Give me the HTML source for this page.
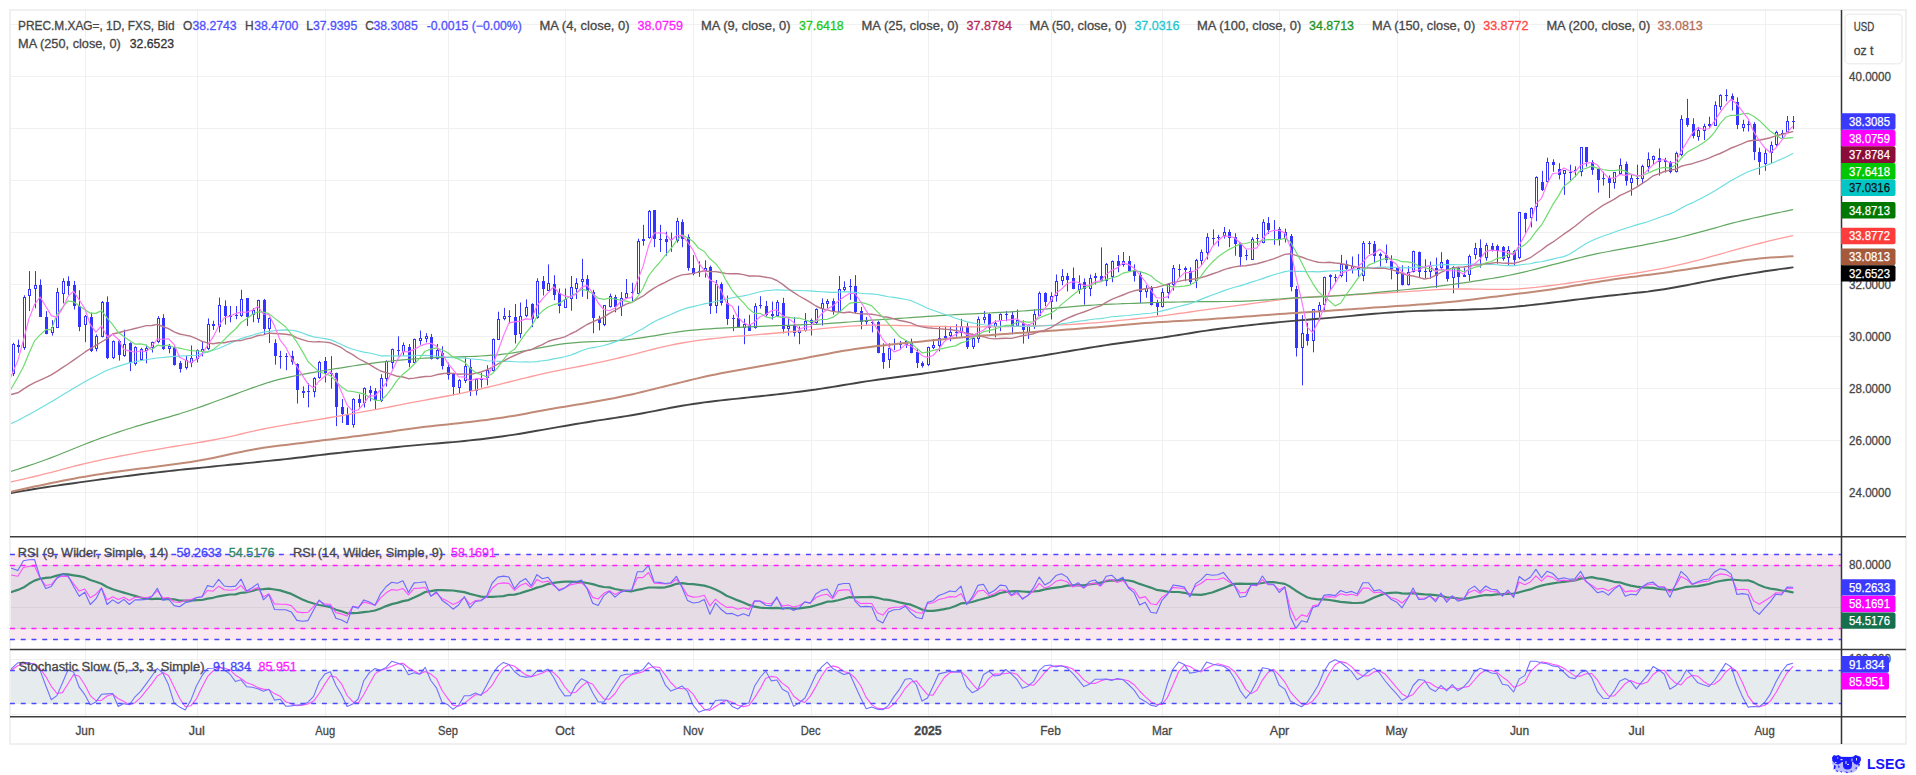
<!DOCTYPE html><html><head><meta charset="utf-8"><style>html,body{margin:0;padding:0;background:#fff;width:1916px;height:775px;overflow:hidden;position:relative}</style></head><body><svg width="1916" height="775" viewBox="0 0 1916 775" style="position:absolute;left:0;top:0;display:block">
<defs><clipPath id="main"><rect x="11" y="11" width="1830" height="525.5"/></clipPath><clipPath id="rsi"><rect x="11" y="537.5" width="1830" height="111.5"/></clipPath><clipPath id="st"><rect x="11" y="650.5" width="1830" height="65.5"/></clipPath></defs>
<rect x="0" y="0" width="1916" height="775" fill="#fff"/>
<rect x="10" y="10" width="1896" height="734" fill="#fff" stroke="#f0f0f0" stroke-width="2"/>
<line x1="11" y1="492.5" x2="1841.5" y2="492.5" stroke="#f0f0f0" stroke-width="1"/>
<line x1="11" y1="440.5" x2="1841.5" y2="440.5" stroke="#f0f0f0" stroke-width="1"/>
<line x1="11" y1="388.5" x2="1841.5" y2="388.5" stroke="#f0f0f0" stroke-width="1"/>
<line x1="11" y1="336.5" x2="1841.5" y2="336.5" stroke="#f0f0f0" stroke-width="1"/>
<line x1="11" y1="284.5" x2="1841.5" y2="284.5" stroke="#f0f0f0" stroke-width="1"/>
<line x1="11" y1="232.5" x2="1841.5" y2="232.5" stroke="#f0f0f0" stroke-width="1"/>
<line x1="11" y1="180.5" x2="1841.5" y2="180.5" stroke="#f0f0f0" stroke-width="1"/>
<line x1="11" y1="128.5" x2="1841.5" y2="128.5" stroke="#f0f0f0" stroke-width="1"/>
<line x1="11" y1="76.5" x2="1841.5" y2="76.5" stroke="#f0f0f0" stroke-width="1"/>
<line x1="11" y1="24.5" x2="1841.5" y2="24.5" stroke="#f0f0f0" stroke-width="1"/>
<line x1="85.5" y1="11" x2="85.5" y2="716" stroke="#f0f0f0" stroke-width="1"/>
<line x1="197.5" y1="11" x2="197.5" y2="716" stroke="#f0f0f0" stroke-width="1"/>
<line x1="325.5" y1="11" x2="325.5" y2="716" stroke="#f0f0f0" stroke-width="1"/>
<line x1="448.5" y1="11" x2="448.5" y2="716" stroke="#f0f0f0" stroke-width="1"/>
<line x1="565.5" y1="11" x2="565.5" y2="716" stroke="#f0f0f0" stroke-width="1"/>
<line x1="693.5" y1="11" x2="693.5" y2="716" stroke="#f0f0f0" stroke-width="1"/>
<line x1="811.5" y1="11" x2="811.5" y2="716" stroke="#f0f0f0" stroke-width="1"/>
<line x1="928.5" y1="11" x2="928.5" y2="716" stroke="#f0f0f0" stroke-width="1"/>
<line x1="1051.5" y1="11" x2="1051.5" y2="716" stroke="#f0f0f0" stroke-width="1"/>
<line x1="1162.5" y1="11" x2="1162.5" y2="716" stroke="#f0f0f0" stroke-width="1"/>
<line x1="1279.5" y1="11" x2="1279.5" y2="716" stroke="#f0f0f0" stroke-width="1"/>
<line x1="1397.5" y1="11" x2="1397.5" y2="716" stroke="#f0f0f0" stroke-width="1"/>
<line x1="1519.5" y1="11" x2="1519.5" y2="716" stroke="#f0f0f0" stroke-width="1"/>
<line x1="1637.5" y1="11" x2="1637.5" y2="716" stroke="#f0f0f0" stroke-width="1"/>
<line x1="1765.5" y1="11" x2="1765.5" y2="716" stroke="#f0f0f0" stroke-width="1"/>
<rect x="11" y="554" width="1830.5" height="86" fill="#f9e8ef"/>
<rect x="11" y="565.5" width="1830.5" height="63" fill="#e5dce5"/>
<line x1="11" y1="565.5" x2="1841.5" y2="565.5" stroke="#d8d0d8" stroke-width="1"/>
<line x1="11" y1="628.5" x2="1841.5" y2="628.5" stroke="#d8d0d8" stroke-width="1"/>
<line x1="11" y1="607.5" x2="1841.5" y2="607.5" stroke="#d9d0d9" stroke-width="1"/>
<rect x="11" y="670" width="1830.5" height="34" fill="#e6eced"/>
<line x1="11" y1="659.5" x2="1841.5" y2="659.5" stroke="#f0f0f0" stroke-width="1"/>
<line x1="11" y1="714.5" x2="1841.5" y2="714.5" stroke="#f0f0f0" stroke-width="1"/>
<g clip-path="url(#main)">
<line x1="13.5" y1="342.8" x2="13.5" y2="376.1" stroke="#3434ff" stroke-width="1"/>
<rect x="12.5" y="344.5" width="2" height="29" fill="#fff" stroke="#3434ff" stroke-width="1"/>
<line x1="18.5" y1="339.7" x2="18.5" y2="352.9" stroke="#3434ff" stroke-width="1"/>
<rect x="17.0" y="345" width="3" height="2" fill="#3434ff"/>
<line x1="24.5" y1="295.3" x2="24.5" y2="349.8" stroke="#3434ff" stroke-width="1"/>
<rect x="23.5" y="297.5" width="2" height="50" fill="#fff" stroke="#3434ff" stroke-width="1"/>
<line x1="29.5" y1="271.1" x2="29.5" y2="311.1" stroke="#3434ff" stroke-width="1"/>
<rect x="28.5" y="289.5" width="2" height="6" fill="#fff" stroke="#3434ff" stroke-width="1"/>
<line x1="35.5" y1="271.1" x2="35.5" y2="308.3" stroke="#3434ff" stroke-width="1"/>
<rect x="34.5" y="285.5" width="2" height="3" fill="#fff" stroke="#3434ff" stroke-width="1"/>
<line x1="40.5" y1="279.4" x2="40.5" y2="316.5" stroke="#3434ff" stroke-width="1"/>
<rect x="39.0" y="285" width="3" height="32" fill="#3434ff"/>
<line x1="46.5" y1="311.1" x2="46.5" y2="334.3" stroke="#3434ff" stroke-width="1"/>
<rect x="45.0" y="317" width="3" height="17" fill="#3434ff"/>
<line x1="52.5" y1="320.1" x2="52.5" y2="335.6" stroke="#3434ff" stroke-width="1"/>
<rect x="51.5" y="327.5" width="2" height="5" fill="#fff" stroke="#3434ff" stroke-width="1"/>
<line x1="57.5" y1="287.9" x2="57.5" y2="328.1" stroke="#3434ff" stroke-width="1"/>
<rect x="56.5" y="292.5" width="2" height="35" fill="#fff" stroke="#3434ff" stroke-width="1"/>
<line x1="63.5" y1="278.3" x2="63.5" y2="303.4" stroke="#3434ff" stroke-width="1"/>
<rect x="62.5" y="281.5" width="2" height="12" fill="#fff" stroke="#3434ff" stroke-width="1"/>
<line x1="68.5" y1="276.3" x2="68.5" y2="294.8" stroke="#3434ff" stroke-width="1"/>
<rect x="67.0" y="281" width="3" height="5" fill="#3434ff"/>
<line x1="74.5" y1="280.9" x2="74.5" y2="309.5" stroke="#3434ff" stroke-width="1"/>
<rect x="73.0" y="285" width="3" height="21" fill="#3434ff"/>
<line x1="79.5" y1="290.2" x2="79.5" y2="331.2" stroke="#3434ff" stroke-width="1"/>
<rect x="78.0" y="306" width="3" height="21" fill="#3434ff"/>
<line x1="85.5" y1="315.0" x2="85.5" y2="342.1" stroke="#3434ff" stroke-width="1"/>
<rect x="84.5" y="316.5" width="2" height="8" fill="#fff" stroke="#3434ff" stroke-width="1"/>
<line x1="91.5" y1="312.6" x2="91.5" y2="352.1" stroke="#3434ff" stroke-width="1"/>
<rect x="90.0" y="317" width="3" height="34" fill="#3434ff"/>
<line x1="96.5" y1="334.3" x2="96.5" y2="351.4" stroke="#3434ff" stroke-width="1"/>
<rect x="95.5" y="336.5" width="2" height="12" fill="#fff" stroke="#3434ff" stroke-width="1"/>
<line x1="102.5" y1="301.0" x2="102.5" y2="337.4" stroke="#3434ff" stroke-width="1"/>
<rect x="101.5" y="302.5" width="2" height="34" fill="#fff" stroke="#3434ff" stroke-width="1"/>
<line x1="107.5" y1="296.4" x2="107.5" y2="359.1" stroke="#3434ff" stroke-width="1"/>
<rect x="106.0" y="302" width="3" height="56" fill="#3434ff"/>
<line x1="113.5" y1="340.5" x2="113.5" y2="359.1" stroke="#3434ff" stroke-width="1"/>
<rect x="112.5" y="341.5" width="2" height="16" fill="#fff" stroke="#3434ff" stroke-width="1"/>
<line x1="119.5" y1="339.7" x2="119.5" y2="360.6" stroke="#3434ff" stroke-width="1"/>
<rect x="118.0" y="341" width="3" height="14" fill="#3434ff"/>
<line x1="124.5" y1="329.7" x2="124.5" y2="356.8" stroke="#3434ff" stroke-width="1"/>
<rect x="123.5" y="344.5" width="2" height="11" fill="#fff" stroke="#3434ff" stroke-width="1"/>
<line x1="130.5" y1="342.4" x2="130.5" y2="371.1" stroke="#3434ff" stroke-width="1"/>
<rect x="129.0" y="343" width="3" height="20" fill="#3434ff"/>
<line x1="135.5" y1="346.3" x2="135.5" y2="365.6" stroke="#3434ff" stroke-width="1"/>
<rect x="134.5" y="347.5" width="2" height="16" fill="#fff" stroke="#3434ff" stroke-width="1"/>
<line x1="141.5" y1="347.8" x2="141.5" y2="361.0" stroke="#3434ff" stroke-width="1"/>
<rect x="140.5" y="349.5" width="2" height="10" fill="#fff" stroke="#3434ff" stroke-width="1"/>
<line x1="146.5" y1="344.7" x2="146.5" y2="363.3" stroke="#3434ff" stroke-width="1"/>
<rect x="145.5" y="348.5" width="2" height="2" fill="#fff" stroke="#3434ff" stroke-width="1"/>
<line x1="152.5" y1="341.6" x2="152.5" y2="352.5" stroke="#3434ff" stroke-width="1"/>
<rect x="151.5" y="342.5" width="2" height="5" fill="#fff" stroke="#3434ff" stroke-width="1"/>
<line x1="158.5" y1="316.1" x2="158.5" y2="343.2" stroke="#3434ff" stroke-width="1"/>
<rect x="157.5" y="318.5" width="2" height="23" fill="#fff" stroke="#3434ff" stroke-width="1"/>
<line x1="163.5" y1="314.2" x2="163.5" y2="349.9" stroke="#3434ff" stroke-width="1"/>
<rect x="162.0" y="318" width="3" height="31" fill="#3434ff"/>
<line x1="169.5" y1="344.0" x2="169.5" y2="353.3" stroke="#3434ff" stroke-width="1"/>
<rect x="168.5" y="346.5" width="2" height="2" fill="#fff" stroke="#3434ff" stroke-width="1"/>
<line x1="174.5" y1="346.3" x2="174.5" y2="365.6" stroke="#3434ff" stroke-width="1"/>
<rect x="173.0" y="347" width="3" height="18" fill="#3434ff"/>
<line x1="180.5" y1="361.0" x2="180.5" y2="372.6" stroke="#3434ff" stroke-width="1"/>
<rect x="179.0" y="363" width="3" height="6" fill="#3434ff"/>
<line x1="186.5" y1="355.6" x2="186.5" y2="369.5" stroke="#3434ff" stroke-width="1"/>
<rect x="185.5" y="360.5" width="2" height="7" fill="#fff" stroke="#3434ff" stroke-width="1"/>
<line x1="191.5" y1="345.5" x2="191.5" y2="367.2" stroke="#3434ff" stroke-width="1"/>
<rect x="190.5" y="358.5" width="2" height="4" fill="#fff" stroke="#3434ff" stroke-width="1"/>
<line x1="197.5" y1="349.4" x2="197.5" y2="362.5" stroke="#3434ff" stroke-width="1"/>
<rect x="196.5" y="350.5" width="2" height="8" fill="#fff" stroke="#3434ff" stroke-width="1"/>
<line x1="202.5" y1="340.9" x2="202.5" y2="356.4" stroke="#3434ff" stroke-width="1"/>
<rect x="201.5" y="349.5" width="2" height="2" fill="#fff" stroke="#3434ff" stroke-width="1"/>
<line x1="208.5" y1="318.4" x2="208.5" y2="350.2" stroke="#3434ff" stroke-width="1"/>
<rect x="207.5" y="324.5" width="2" height="24" fill="#fff" stroke="#3434ff" stroke-width="1"/>
<line x1="213.5" y1="320.7" x2="213.5" y2="330.0" stroke="#3434ff" stroke-width="1"/>
<rect x="212.0" y="324" width="3" height="2" fill="#3434ff"/>
<line x1="219.5" y1="297.5" x2="219.5" y2="332.4" stroke="#3434ff" stroke-width="1"/>
<rect x="218.5" y="305.5" width="2" height="21" fill="#fff" stroke="#3434ff" stroke-width="1"/>
<line x1="225.5" y1="300.3" x2="225.5" y2="324.6" stroke="#3434ff" stroke-width="1"/>
<rect x="224.0" y="306" width="3" height="10" fill="#3434ff"/>
<line x1="230.5" y1="306.0" x2="230.5" y2="322.3" stroke="#3434ff" stroke-width="1"/>
<rect x="229.0" y="315" width="3" height="2" fill="#3434ff"/>
<line x1="236.5" y1="306.0" x2="236.5" y2="319.2" stroke="#3434ff" stroke-width="1"/>
<rect x="235.0" y="315" width="3" height="1" fill="#3434ff"/>
<line x1="241.5" y1="289.8" x2="241.5" y2="316.9" stroke="#3434ff" stroke-width="1"/>
<rect x="240.5" y="299.5" width="2" height="16" fill="#fff" stroke="#3434ff" stroke-width="1"/>
<line x1="247.5" y1="298.2" x2="247.5" y2="326.0" stroke="#3434ff" stroke-width="1"/>
<rect x="246.0" y="298" width="3" height="19" fill="#3434ff"/>
<line x1="253.5" y1="308.2" x2="253.5" y2="322.2" stroke="#3434ff" stroke-width="1"/>
<rect x="252.5" y="310.5" width="2" height="4" fill="#fff" stroke="#3434ff" stroke-width="1"/>
<line x1="258.5" y1="299.7" x2="258.5" y2="322.9" stroke="#3434ff" stroke-width="1"/>
<rect x="257.5" y="300.5" width="2" height="18" fill="#fff" stroke="#3434ff" stroke-width="1"/>
<line x1="264.5" y1="298.9" x2="264.5" y2="334.5" stroke="#3434ff" stroke-width="1"/>
<rect x="263.0" y="300" width="3" height="29" fill="#3434ff"/>
<line x1="269.5" y1="317.5" x2="269.5" y2="343.1" stroke="#3434ff" stroke-width="1"/>
<rect x="268.5" y="318.5" width="2" height="10" fill="#fff" stroke="#3434ff" stroke-width="1"/>
<line x1="275.5" y1="339.2" x2="275.5" y2="364.7" stroke="#3434ff" stroke-width="1"/>
<rect x="274.0" y="343" width="3" height="13" fill="#3434ff"/>
<line x1="280.5" y1="350.8" x2="280.5" y2="368.6" stroke="#3434ff" stroke-width="1"/>
<rect x="279.0" y="356" width="3" height="1" fill="#3434ff"/>
<line x1="286.5" y1="353.1" x2="286.5" y2="370.2" stroke="#3434ff" stroke-width="1"/>
<rect x="285.0" y="356" width="3" height="1" fill="#3434ff"/>
<line x1="292.5" y1="350.8" x2="292.5" y2="364.7" stroke="#3434ff" stroke-width="1"/>
<rect x="291.0" y="356" width="3" height="6" fill="#3434ff"/>
<line x1="297.5" y1="363.2" x2="297.5" y2="403.5" stroke="#3434ff" stroke-width="1"/>
<rect x="296.0" y="364" width="3" height="26" fill="#3434ff"/>
<line x1="303.5" y1="386.4" x2="303.5" y2="398.0" stroke="#3434ff" stroke-width="1"/>
<rect x="302.0" y="391" width="3" height="2" fill="#3434ff"/>
<line x1="308.5" y1="383.3" x2="308.5" y2="407.3" stroke="#3434ff" stroke-width="1"/>
<rect x="307.0" y="391" width="3" height="1" fill="#3434ff"/>
<line x1="314.5" y1="377.1" x2="314.5" y2="397.3" stroke="#3434ff" stroke-width="1"/>
<rect x="313.5" y="378.5" width="2" height="13" fill="#fff" stroke="#3434ff" stroke-width="1"/>
<line x1="319.5" y1="360.9" x2="319.5" y2="378.7" stroke="#3434ff" stroke-width="1"/>
<rect x="318.5" y="362.5" width="2" height="15" fill="#fff" stroke="#3434ff" stroke-width="1"/>
<line x1="325.5" y1="357.0" x2="325.5" y2="382.5" stroke="#3434ff" stroke-width="1"/>
<rect x="324.0" y="361" width="3" height="12" fill="#3434ff"/>
<line x1="331.5" y1="356.2" x2="331.5" y2="388.7" stroke="#3434ff" stroke-width="1"/>
<rect x="330.0" y="373" width="3" height="1" fill="#3434ff"/>
<line x1="336.5" y1="372.6" x2="336.5" y2="426.1" stroke="#3434ff" stroke-width="1"/>
<rect x="335.0" y="373" width="3" height="34" fill="#3434ff"/>
<line x1="342.5" y1="399.0" x2="342.5" y2="423.0" stroke="#3434ff" stroke-width="1"/>
<rect x="341.0" y="407" width="3" height="7" fill="#3434ff"/>
<line x1="347.5" y1="407.5" x2="347.5" y2="424.5" stroke="#3434ff" stroke-width="1"/>
<rect x="346.0" y="414" width="3" height="11" fill="#3434ff"/>
<line x1="353.5" y1="398.2" x2="353.5" y2="427.6" stroke="#3434ff" stroke-width="1"/>
<rect x="352.5" y="399.5" width="2" height="25" fill="#fff" stroke="#3434ff" stroke-width="1"/>
<line x1="359.5" y1="394.3" x2="359.5" y2="407.5" stroke="#3434ff" stroke-width="1"/>
<rect x="358.0" y="399" width="3" height="4" fill="#3434ff"/>
<line x1="364.5" y1="387.4" x2="364.5" y2="407.5" stroke="#3434ff" stroke-width="1"/>
<rect x="363.5" y="388.5" width="2" height="14" fill="#fff" stroke="#3434ff" stroke-width="1"/>
<line x1="370.5" y1="385.8" x2="370.5" y2="401.3" stroke="#3434ff" stroke-width="1"/>
<rect x="369.0" y="390" width="3" height="3" fill="#3434ff"/>
<line x1="375.5" y1="388.1" x2="375.5" y2="409.0" stroke="#3434ff" stroke-width="1"/>
<rect x="374.0" y="391" width="3" height="9" fill="#3434ff"/>
<line x1="381.5" y1="374.2" x2="381.5" y2="402.1" stroke="#3434ff" stroke-width="1"/>
<rect x="380.5" y="378.5" width="2" height="22" fill="#fff" stroke="#3434ff" stroke-width="1"/>
<line x1="386.5" y1="360.3" x2="386.5" y2="386.6" stroke="#3434ff" stroke-width="1"/>
<rect x="385.5" y="361.5" width="2" height="17" fill="#fff" stroke="#3434ff" stroke-width="1"/>
<line x1="392.5" y1="348.6" x2="392.5" y2="368.8" stroke="#3434ff" stroke-width="1"/>
<rect x="391.5" y="349.5" width="2" height="13" fill="#fff" stroke="#3434ff" stroke-width="1"/>
<line x1="398.5" y1="336.3" x2="398.5" y2="356.4" stroke="#3434ff" stroke-width="1"/>
<rect x="397.0" y="350" width="3" height="1" fill="#3434ff"/>
<line x1="403.5" y1="342.5" x2="403.5" y2="355.6" stroke="#3434ff" stroke-width="1"/>
<rect x="402.5" y="345.5" width="2" height="6" fill="#fff" stroke="#3434ff" stroke-width="1"/>
<line x1="409.5" y1="344.0" x2="409.5" y2="367.2" stroke="#3434ff" stroke-width="1"/>
<rect x="408.0" y="347" width="3" height="16" fill="#3434ff"/>
<line x1="414.5" y1="338.6" x2="414.5" y2="363.4" stroke="#3434ff" stroke-width="1"/>
<rect x="413.5" y="339.5" width="2" height="23" fill="#fff" stroke="#3434ff" stroke-width="1"/>
<line x1="420.5" y1="330.5" x2="420.5" y2="344.8" stroke="#3434ff" stroke-width="1"/>
<rect x="419.5" y="338.5" width="2" height="2" fill="#fff" stroke="#3434ff" stroke-width="1"/>
<line x1="426.5" y1="333.2" x2="426.5" y2="342.5" stroke="#3434ff" stroke-width="1"/>
<rect x="425.5" y="336.5" width="2" height="2" fill="#fff" stroke="#3434ff" stroke-width="1"/>
<line x1="431.5" y1="333.9" x2="431.5" y2="359.5" stroke="#3434ff" stroke-width="1"/>
<rect x="430.0" y="337" width="3" height="22" fill="#3434ff"/>
<line x1="437.5" y1="344.0" x2="437.5" y2="359.5" stroke="#3434ff" stroke-width="1"/>
<rect x="436.5" y="350.5" width="2" height="8" fill="#fff" stroke="#3434ff" stroke-width="1"/>
<line x1="442.5" y1="346.3" x2="442.5" y2="369.5" stroke="#3434ff" stroke-width="1"/>
<rect x="441.0" y="353" width="3" height="13" fill="#3434ff"/>
<line x1="448.5" y1="362.6" x2="448.5" y2="379.6" stroke="#3434ff" stroke-width="1"/>
<rect x="447.0" y="367" width="3" height="8" fill="#3434ff"/>
<line x1="453.5" y1="372.9" x2="453.5" y2="395.4" stroke="#3434ff" stroke-width="1"/>
<rect x="452.0" y="374" width="3" height="13" fill="#3434ff"/>
<line x1="459.5" y1="379.1" x2="459.5" y2="393.8" stroke="#3434ff" stroke-width="1"/>
<rect x="458.5" y="380.5" width="2" height="7" fill="#fff" stroke="#3434ff" stroke-width="1"/>
<line x1="465.5" y1="357.4" x2="465.5" y2="383.0" stroke="#3434ff" stroke-width="1"/>
<rect x="464.5" y="366.5" width="2" height="14" fill="#fff" stroke="#3434ff" stroke-width="1"/>
<line x1="470.5" y1="359.0" x2="470.5" y2="396.1" stroke="#3434ff" stroke-width="1"/>
<rect x="469.0" y="367" width="3" height="24" fill="#3434ff"/>
<line x1="476.5" y1="378.3" x2="476.5" y2="395.4" stroke="#3434ff" stroke-width="1"/>
<rect x="475.5" y="379.5" width="2" height="11" fill="#fff" stroke="#3434ff" stroke-width="1"/>
<line x1="481.5" y1="372.9" x2="481.5" y2="387.6" stroke="#3434ff" stroke-width="1"/>
<rect x="480.5" y="378.5" width="2" height="1" fill="#fff" stroke="#3434ff" stroke-width="1"/>
<line x1="487.5" y1="365.2" x2="487.5" y2="385.3" stroke="#3434ff" stroke-width="1"/>
<rect x="486.5" y="370.5" width="2" height="7" fill="#fff" stroke="#3434ff" stroke-width="1"/>
<line x1="493.5" y1="338.5" x2="493.5" y2="371.4" stroke="#3434ff" stroke-width="1"/>
<rect x="492.5" y="339.5" width="2" height="31" fill="#fff" stroke="#3434ff" stroke-width="1"/>
<line x1="498.5" y1="311.7" x2="498.5" y2="339.6" stroke="#3434ff" stroke-width="1"/>
<rect x="497.5" y="319.5" width="2" height="20" fill="#fff" stroke="#3434ff" stroke-width="1"/>
<line x1="504.5" y1="307.9" x2="504.5" y2="320.3" stroke="#3434ff" stroke-width="1"/>
<rect x="503.5" y="316.5" width="2" height="2" fill="#fff" stroke="#3434ff" stroke-width="1"/>
<line x1="509.5" y1="310.2" x2="509.5" y2="323.4" stroke="#3434ff" stroke-width="1"/>
<rect x="508.0" y="316" width="3" height="1" fill="#3434ff"/>
<line x1="515.5" y1="304.0" x2="515.5" y2="343.5" stroke="#3434ff" stroke-width="1"/>
<rect x="514.0" y="317" width="3" height="18" fill="#3434ff"/>
<line x1="520.5" y1="302.5" x2="520.5" y2="338.1" stroke="#3434ff" stroke-width="1"/>
<rect x="519.5" y="316.5" width="2" height="17" fill="#fff" stroke="#3434ff" stroke-width="1"/>
<line x1="526.5" y1="299.4" x2="526.5" y2="317.2" stroke="#3434ff" stroke-width="1"/>
<rect x="525.5" y="307.5" width="2" height="8" fill="#fff" stroke="#3434ff" stroke-width="1"/>
<line x1="532.5" y1="303.2" x2="532.5" y2="327.2" stroke="#3434ff" stroke-width="1"/>
<rect x="531.0" y="304" width="3" height="15" fill="#3434ff"/>
<line x1="537.5" y1="278.3" x2="537.5" y2="318.7" stroke="#3434ff" stroke-width="1"/>
<rect x="536.5" y="281.5" width="2" height="36" fill="#fff" stroke="#3434ff" stroke-width="1"/>
<line x1="543.5" y1="276.0" x2="543.5" y2="295.5" stroke="#3434ff" stroke-width="1"/>
<rect x="542.0" y="281" width="3" height="8" fill="#3434ff"/>
<line x1="548.5" y1="264.4" x2="548.5" y2="290.8" stroke="#3434ff" stroke-width="1"/>
<rect x="547.5" y="283.5" width="2" height="7" fill="#fff" stroke="#3434ff" stroke-width="1"/>
<line x1="554.5" y1="275.2" x2="554.5" y2="300.1" stroke="#3434ff" stroke-width="1"/>
<rect x="553.0" y="284" width="3" height="11" fill="#3434ff"/>
<line x1="559.5" y1="288.5" x2="559.5" y2="313.3" stroke="#3434ff" stroke-width="1"/>
<rect x="558.0" y="293" width="3" height="13" fill="#3434ff"/>
<line x1="565.5" y1="288.5" x2="565.5" y2="307.9" stroke="#3434ff" stroke-width="1"/>
<rect x="564.5" y="299.5" width="2" height="8" fill="#fff" stroke="#3434ff" stroke-width="1"/>
<line x1="571.5" y1="275.9" x2="571.5" y2="310.7" stroke="#3434ff" stroke-width="1"/>
<rect x="570.5" y="287.5" width="2" height="11" fill="#fff" stroke="#3434ff" stroke-width="1"/>
<line x1="576.5" y1="278.2" x2="576.5" y2="299.1" stroke="#3434ff" stroke-width="1"/>
<rect x="575.5" y="283.5" width="2" height="5" fill="#fff" stroke="#3434ff" stroke-width="1"/>
<line x1="582.5" y1="258.8" x2="582.5" y2="296.8" stroke="#3434ff" stroke-width="1"/>
<rect x="581.5" y="279.5" width="2" height="2" fill="#fff" stroke="#3434ff" stroke-width="1"/>
<line x1="587.5" y1="275.1" x2="587.5" y2="299.1" stroke="#3434ff" stroke-width="1"/>
<rect x="586.0" y="279" width="3" height="12" fill="#3434ff"/>
<line x1="593.5" y1="289.8" x2="593.5" y2="333.2" stroke="#3434ff" stroke-width="1"/>
<rect x="592.0" y="292" width="3" height="26" fill="#3434ff"/>
<line x1="599.5" y1="315.8" x2="599.5" y2="330.4" stroke="#3434ff" stroke-width="1"/>
<rect x="598.0" y="319" width="3" height="4" fill="#3434ff"/>
<line x1="604.5" y1="305.0" x2="604.5" y2="326.2" stroke="#3434ff" stroke-width="1"/>
<rect x="603.5" y="305.5" width="2" height="19" fill="#fff" stroke="#3434ff" stroke-width="1"/>
<line x1="610.5" y1="293.7" x2="610.5" y2="307.6" stroke="#3434ff" stroke-width="1"/>
<rect x="609.5" y="296.5" width="2" height="10" fill="#fff" stroke="#3434ff" stroke-width="1"/>
<line x1="615.5" y1="294.8" x2="615.5" y2="312.3" stroke="#3434ff" stroke-width="1"/>
<rect x="614.0" y="297" width="3" height="10" fill="#3434ff"/>
<line x1="621.5" y1="292.1" x2="621.5" y2="316.1" stroke="#3434ff" stroke-width="1"/>
<rect x="620.5" y="298.5" width="2" height="8" fill="#fff" stroke="#3434ff" stroke-width="1"/>
<line x1="626.5" y1="279.0" x2="626.5" y2="299.1" stroke="#3434ff" stroke-width="1"/>
<rect x="625.5" y="293.5" width="2" height="4" fill="#fff" stroke="#3434ff" stroke-width="1"/>
<line x1="632.5" y1="282.8" x2="632.5" y2="302.2" stroke="#3434ff" stroke-width="1"/>
<rect x="631.0" y="292" width="3" height="1" fill="#3434ff"/>
<line x1="638.5" y1="238.7" x2="638.5" y2="293.7" stroke="#3434ff" stroke-width="1"/>
<rect x="637.5" y="241.5" width="2" height="52" fill="#fff" stroke="#3434ff" stroke-width="1"/>
<line x1="643.5" y1="224.8" x2="643.5" y2="245.7" stroke="#3434ff" stroke-width="1"/>
<rect x="642.0" y="239" width="3" height="2" fill="#3434ff"/>
<line x1="649.5" y1="210.1" x2="649.5" y2="238.7" stroke="#3434ff" stroke-width="1"/>
<rect x="648.5" y="211.5" width="2" height="26" fill="#fff" stroke="#3434ff" stroke-width="1"/>
<line x1="654.5" y1="210.1" x2="654.5" y2="247.2" stroke="#3434ff" stroke-width="1"/>
<rect x="653.0" y="210" width="3" height="29" fill="#3434ff"/>
<line x1="660.5" y1="224.8" x2="660.5" y2="251.9" stroke="#3434ff" stroke-width="1"/>
<rect x="659.0" y="239" width="3" height="1" fill="#3434ff"/>
<line x1="666.5" y1="231.7" x2="666.5" y2="255.7" stroke="#3434ff" stroke-width="1"/>
<rect x="665.0" y="239" width="3" height="3" fill="#3434ff"/>
<line x1="671.5" y1="232.5" x2="671.5" y2="251.9" stroke="#3434ff" stroke-width="1"/>
<rect x="670.0" y="239" width="3" height="1" fill="#3434ff"/>
<line x1="677.5" y1="217.8" x2="677.5" y2="242.6" stroke="#3434ff" stroke-width="1"/>
<rect x="676.5" y="221.5" width="2" height="19" fill="#fff" stroke="#3434ff" stroke-width="1"/>
<line x1="682.5" y1="219.4" x2="682.5" y2="247.2" stroke="#3434ff" stroke-width="1"/>
<rect x="681.0" y="222" width="3" height="17" fill="#3434ff"/>
<line x1="688.5" y1="234.3" x2="688.5" y2="270.7" stroke="#3434ff" stroke-width="1"/>
<rect x="687.0" y="237" width="3" height="31" fill="#3434ff"/>
<line x1="693.5" y1="255.2" x2="693.5" y2="275.3" stroke="#3434ff" stroke-width="1"/>
<rect x="692.0" y="268" width="3" height="6" fill="#3434ff"/>
<line x1="699.5" y1="261.4" x2="699.5" y2="276.9" stroke="#3434ff" stroke-width="1"/>
<rect x="698.0" y="271" width="3" height="1" fill="#3434ff"/>
<line x1="705.5" y1="260.3" x2="705.5" y2="277.6" stroke="#3434ff" stroke-width="1"/>
<rect x="704.5" y="268.5" width="2" height="2" fill="#fff" stroke="#3434ff" stroke-width="1"/>
<line x1="710.5" y1="265.6" x2="710.5" y2="314.0" stroke="#3434ff" stroke-width="1"/>
<rect x="709.0" y="267" width="3" height="39" fill="#3434ff"/>
<line x1="716.5" y1="280.0" x2="716.5" y2="313.3" stroke="#3434ff" stroke-width="1"/>
<rect x="715.5" y="284.5" width="2" height="21" fill="#fff" stroke="#3434ff" stroke-width="1"/>
<line x1="721.5" y1="282.3" x2="721.5" y2="305.5" stroke="#3434ff" stroke-width="1"/>
<rect x="720.0" y="284" width="3" height="19" fill="#3434ff"/>
<line x1="727.5" y1="295.5" x2="727.5" y2="324.9" stroke="#3434ff" stroke-width="1"/>
<rect x="726.0" y="303" width="3" height="16" fill="#3434ff"/>
<line x1="733.5" y1="314.8" x2="733.5" y2="331.1" stroke="#3434ff" stroke-width="1"/>
<rect x="732.0" y="318" width="3" height="1" fill="#3434ff"/>
<line x1="738.5" y1="305.8" x2="738.5" y2="328.0" stroke="#3434ff" stroke-width="1"/>
<rect x="737.0" y="318" width="3" height="10" fill="#3434ff"/>
<line x1="744.5" y1="318.7" x2="744.5" y2="344.2" stroke="#3434ff" stroke-width="1"/>
<rect x="743.5" y="324.5" width="2" height="3" fill="#fff" stroke="#3434ff" stroke-width="1"/>
<line x1="749.5" y1="314.8" x2="749.5" y2="331.1" stroke="#3434ff" stroke-width="1"/>
<rect x="748.0" y="325" width="3" height="6" fill="#3434ff"/>
<line x1="755.5" y1="303.2" x2="755.5" y2="328.7" stroke="#3434ff" stroke-width="1"/>
<rect x="754.5" y="306.5" width="2" height="21" fill="#fff" stroke="#3434ff" stroke-width="1"/>
<line x1="760.5" y1="296.2" x2="760.5" y2="308.6" stroke="#3434ff" stroke-width="1"/>
<rect x="759.0" y="305" width="3" height="1" fill="#3434ff"/>
<line x1="766.5" y1="300.9" x2="766.5" y2="316.4" stroke="#3434ff" stroke-width="1"/>
<rect x="765.0" y="306" width="3" height="9" fill="#3434ff"/>
<line x1="772.5" y1="301.6" x2="772.5" y2="319.5" stroke="#3434ff" stroke-width="1"/>
<rect x="771.0" y="314" width="3" height="2" fill="#3434ff"/>
<line x1="777.5" y1="300.1" x2="777.5" y2="317.1" stroke="#3434ff" stroke-width="1"/>
<rect x="776.5" y="302.5" width="2" height="13" fill="#fff" stroke="#3434ff" stroke-width="1"/>
<line x1="783.5" y1="297.8" x2="783.5" y2="333.4" stroke="#3434ff" stroke-width="1"/>
<rect x="782.0" y="303" width="3" height="26" fill="#3434ff"/>
<line x1="788.5" y1="317.1" x2="788.5" y2="335.7" stroke="#3434ff" stroke-width="1"/>
<rect x="787.5" y="326.5" width="2" height="2" fill="#fff" stroke="#3434ff" stroke-width="1"/>
<line x1="794.5" y1="317.1" x2="794.5" y2="336.5" stroke="#3434ff" stroke-width="1"/>
<rect x="793.0" y="325" width="3" height="8" fill="#3434ff"/>
<line x1="799.5" y1="326.4" x2="799.5" y2="344.2" stroke="#3434ff" stroke-width="1"/>
<rect x="798.5" y="330.5" width="2" height="2" fill="#fff" stroke="#3434ff" stroke-width="1"/>
<line x1="805.5" y1="313.1" x2="805.5" y2="331.6" stroke="#3434ff" stroke-width="1"/>
<rect x="804.5" y="321.5" width="2" height="9" fill="#fff" stroke="#3434ff" stroke-width="1"/>
<line x1="811.5" y1="318.5" x2="811.5" y2="335.5" stroke="#3434ff" stroke-width="1"/>
<rect x="810.0" y="320" width="3" height="3" fill="#3434ff"/>
<line x1="816.5" y1="308.4" x2="816.5" y2="323.9" stroke="#3434ff" stroke-width="1"/>
<rect x="815.5" y="309.5" width="2" height="13" fill="#fff" stroke="#3434ff" stroke-width="1"/>
<line x1="822.5" y1="298.4" x2="822.5" y2="325.5" stroke="#3434ff" stroke-width="1"/>
<rect x="821.5" y="303.5" width="2" height="5" fill="#fff" stroke="#3434ff" stroke-width="1"/>
<line x1="827.5" y1="299.1" x2="827.5" y2="308.4" stroke="#3434ff" stroke-width="1"/>
<rect x="826.5" y="301.5" width="2" height="2" fill="#fff" stroke="#3434ff" stroke-width="1"/>
<line x1="833.5" y1="298.4" x2="833.5" y2="314.6" stroke="#3434ff" stroke-width="1"/>
<rect x="832.0" y="301" width="3" height="11" fill="#3434ff"/>
<line x1="839.5" y1="275.9" x2="839.5" y2="313.1" stroke="#3434ff" stroke-width="1"/>
<rect x="838.5" y="289.5" width="2" height="22" fill="#fff" stroke="#3434ff" stroke-width="1"/>
<line x1="844.5" y1="281.3" x2="844.5" y2="291.4" stroke="#3434ff" stroke-width="1"/>
<rect x="843.5" y="287.5" width="2" height="2" fill="#fff" stroke="#3434ff" stroke-width="1"/>
<line x1="850.5" y1="279.0" x2="850.5" y2="299.9" stroke="#3434ff" stroke-width="1"/>
<rect x="849.0" y="286" width="3" height="1" fill="#3434ff"/>
<line x1="855.5" y1="275.1" x2="855.5" y2="313.1" stroke="#3434ff" stroke-width="1"/>
<rect x="854.0" y="286" width="3" height="26" fill="#3434ff"/>
<line x1="861.5" y1="306.9" x2="861.5" y2="329.3" stroke="#3434ff" stroke-width="1"/>
<rect x="860.0" y="311" width="3" height="11" fill="#3434ff"/>
<line x1="866.5" y1="316.9" x2="866.5" y2="324.7" stroke="#3434ff" stroke-width="1"/>
<rect x="865.0" y="321" width="3" height="1" fill="#3434ff"/>
<line x1="872.5" y1="320.0" x2="872.5" y2="332.4" stroke="#3434ff" stroke-width="1"/>
<rect x="871.0" y="322" width="3" height="1" fill="#3434ff"/>
<line x1="878.5" y1="320.8" x2="878.5" y2="353.3" stroke="#3434ff" stroke-width="1"/>
<rect x="877.0" y="322" width="3" height="31" fill="#3434ff"/>
<line x1="883.5" y1="343.3" x2="883.5" y2="368.8" stroke="#3434ff" stroke-width="1"/>
<rect x="882.0" y="353" width="3" height="9" fill="#3434ff"/>
<line x1="889.5" y1="343.3" x2="889.5" y2="368.0" stroke="#3434ff" stroke-width="1"/>
<rect x="888.5" y="348.5" width="2" height="11" fill="#fff" stroke="#3434ff" stroke-width="1"/>
<line x1="894.5" y1="338.6" x2="894.5" y2="350.2" stroke="#3434ff" stroke-width="1"/>
<rect x="893.0" y="344" width="3" height="1" fill="#3434ff"/>
<line x1="900.5" y1="340.9" x2="900.5" y2="349.5" stroke="#3434ff" stroke-width="1"/>
<rect x="899.0" y="344" width="3" height="1" fill="#3434ff"/>
<line x1="906.5" y1="339.9" x2="906.5" y2="347.9" stroke="#3434ff" stroke-width="1"/>
<rect x="905.5" y="341.5" width="2" height="3" fill="#fff" stroke="#3434ff" stroke-width="1"/>
<line x1="911.5" y1="338.6" x2="911.5" y2="353.3" stroke="#3434ff" stroke-width="1"/>
<rect x="910.0" y="342" width="3" height="11" fill="#3434ff"/>
<line x1="917.5" y1="348.7" x2="917.5" y2="368.0" stroke="#3434ff" stroke-width="1"/>
<rect x="916.0" y="352" width="3" height="11" fill="#3434ff"/>
<line x1="922.5" y1="361.4" x2="922.5" y2="367.6" stroke="#3434ff" stroke-width="1"/>
<rect x="921.0" y="363" width="3" height="3" fill="#3434ff"/>
<line x1="928.5" y1="346.7" x2="928.5" y2="366.1" stroke="#3434ff" stroke-width="1"/>
<rect x="927.5" y="347.5" width="2" height="17" fill="#fff" stroke="#3434ff" stroke-width="1"/>
<line x1="933.5" y1="339.0" x2="933.5" y2="349.0" stroke="#3434ff" stroke-width="1"/>
<rect x="932.5" y="345.5" width="2" height="2" fill="#fff" stroke="#3434ff" stroke-width="1"/>
<line x1="939.5" y1="326.6" x2="939.5" y2="351.4" stroke="#3434ff" stroke-width="1"/>
<rect x="938.5" y="338.5" width="2" height="7" fill="#fff" stroke="#3434ff" stroke-width="1"/>
<line x1="945.5" y1="325.8" x2="945.5" y2="339.0" stroke="#3434ff" stroke-width="1"/>
<rect x="944.5" y="336.5" width="2" height="1" fill="#fff" stroke="#3434ff" stroke-width="1"/>
<line x1="950.5" y1="326.6" x2="950.5" y2="341.3" stroke="#3434ff" stroke-width="1"/>
<rect x="949.5" y="332.5" width="2" height="3" fill="#fff" stroke="#3434ff" stroke-width="1"/>
<line x1="956.5" y1="324.3" x2="956.5" y2="336.6" stroke="#3434ff" stroke-width="1"/>
<rect x="955.0" y="332" width="3" height="1" fill="#3434ff"/>
<line x1="961.5" y1="318.8" x2="961.5" y2="336.6" stroke="#3434ff" stroke-width="1"/>
<rect x="960.5" y="326.5" width="2" height="6" fill="#fff" stroke="#3434ff" stroke-width="1"/>
<line x1="967.5" y1="322.7" x2="967.5" y2="349.0" stroke="#3434ff" stroke-width="1"/>
<rect x="966.0" y="326" width="3" height="21" fill="#3434ff"/>
<line x1="973.5" y1="337.4" x2="973.5" y2="349.0" stroke="#3434ff" stroke-width="1"/>
<rect x="972.5" y="338.5" width="2" height="8" fill="#fff" stroke="#3434ff" stroke-width="1"/>
<line x1="978.5" y1="316.5" x2="978.5" y2="342.8" stroke="#3434ff" stroke-width="1"/>
<rect x="977.5" y="319.5" width="2" height="19" fill="#fff" stroke="#3434ff" stroke-width="1"/>
<line x1="984.5" y1="311.1" x2="984.5" y2="323.5" stroke="#3434ff" stroke-width="1"/>
<rect x="983.5" y="317.5" width="2" height="2" fill="#fff" stroke="#3434ff" stroke-width="1"/>
<line x1="989.5" y1="313.4" x2="989.5" y2="332.8" stroke="#3434ff" stroke-width="1"/>
<rect x="988.0" y="314" width="3" height="14" fill="#3434ff"/>
<line x1="995.5" y1="320.4" x2="995.5" y2="337.4" stroke="#3434ff" stroke-width="1"/>
<rect x="994.5" y="323.5" width="2" height="3" fill="#fff" stroke="#3434ff" stroke-width="1"/>
<line x1="1000.5" y1="313.4" x2="1000.5" y2="331.2" stroke="#3434ff" stroke-width="1"/>
<rect x="999.5" y="314.5" width="2" height="6" fill="#fff" stroke="#3434ff" stroke-width="1"/>
<line x1="1006.5" y1="311.1" x2="1006.5" y2="321.2" stroke="#3434ff" stroke-width="1"/>
<rect x="1005.0" y="314" width="3" height="1" fill="#3434ff"/>
<line x1="1012.5" y1="311.1" x2="1012.5" y2="334.3" stroke="#3434ff" stroke-width="1"/>
<rect x="1011.0" y="315" width="3" height="11" fill="#3434ff"/>
<line x1="1017.5" y1="309.5" x2="1017.5" y2="326.6" stroke="#3434ff" stroke-width="1"/>
<rect x="1016.5" y="320.5" width="2" height="5" fill="#fff" stroke="#3434ff" stroke-width="1"/>
<line x1="1023.5" y1="320.4" x2="1023.5" y2="343.6" stroke="#3434ff" stroke-width="1"/>
<rect x="1022.0" y="323" width="3" height="7" fill="#3434ff"/>
<line x1="1028.5" y1="324.3" x2="1028.5" y2="339.0" stroke="#3434ff" stroke-width="1"/>
<rect x="1027.5" y="325.5" width="2" height="7" fill="#fff" stroke="#3434ff" stroke-width="1"/>
<line x1="1034.5" y1="309.5" x2="1034.5" y2="328.9" stroke="#3434ff" stroke-width="1"/>
<rect x="1033.5" y="314.5" width="2" height="12" fill="#fff" stroke="#3434ff" stroke-width="1"/>
<line x1="1039.5" y1="291.5" x2="1039.5" y2="316.3" stroke="#3434ff" stroke-width="1"/>
<rect x="1038.5" y="293.5" width="2" height="22" fill="#fff" stroke="#3434ff" stroke-width="1"/>
<line x1="1045.5" y1="292.3" x2="1045.5" y2="306.2" stroke="#3434ff" stroke-width="1"/>
<rect x="1044.0" y="293" width="3" height="9" fill="#3434ff"/>
<line x1="1051.5" y1="292.3" x2="1051.5" y2="319.4" stroke="#3434ff" stroke-width="1"/>
<rect x="1050.5" y="296.5" width="2" height="5" fill="#fff" stroke="#3434ff" stroke-width="1"/>
<line x1="1056.5" y1="274.5" x2="1056.5" y2="301.6" stroke="#3434ff" stroke-width="1"/>
<rect x="1055.5" y="281.5" width="2" height="14" fill="#fff" stroke="#3434ff" stroke-width="1"/>
<line x1="1062.5" y1="269.1" x2="1062.5" y2="285.3" stroke="#3434ff" stroke-width="1"/>
<rect x="1061.5" y="276.5" width="2" height="4" fill="#fff" stroke="#3434ff" stroke-width="1"/>
<line x1="1067.5" y1="272.9" x2="1067.5" y2="291.5" stroke="#3434ff" stroke-width="1"/>
<rect x="1066.0" y="276" width="3" height="4" fill="#3434ff"/>
<line x1="1073.5" y1="267.5" x2="1073.5" y2="289.2" stroke="#3434ff" stroke-width="1"/>
<rect x="1072.0" y="278" width="3" height="11" fill="#3434ff"/>
<line x1="1079.5" y1="275.3" x2="1079.5" y2="293.8" stroke="#3434ff" stroke-width="1"/>
<rect x="1078.5" y="284.5" width="2" height="5" fill="#fff" stroke="#3434ff" stroke-width="1"/>
<line x1="1084.5" y1="278.4" x2="1084.5" y2="304.7" stroke="#3434ff" stroke-width="1"/>
<rect x="1083.0" y="282" width="3" height="7" fill="#3434ff"/>
<line x1="1090.5" y1="274.5" x2="1090.5" y2="296.2" stroke="#3434ff" stroke-width="1"/>
<rect x="1089.5" y="278.5" width="2" height="10" fill="#fff" stroke="#3434ff" stroke-width="1"/>
<line x1="1095.5" y1="272.9" x2="1095.5" y2="284.5" stroke="#3434ff" stroke-width="1"/>
<rect x="1094.5" y="276.5" width="2" height="1" fill="#fff" stroke="#3434ff" stroke-width="1"/>
<line x1="1101.5" y1="247.4" x2="1101.5" y2="282.2" stroke="#3434ff" stroke-width="1"/>
<rect x="1100.0" y="276" width="3" height="5" fill="#3434ff"/>
<line x1="1106.5" y1="262.9" x2="1106.5" y2="286.1" stroke="#3434ff" stroke-width="1"/>
<rect x="1105.5" y="264.5" width="2" height="16" fill="#fff" stroke="#3434ff" stroke-width="1"/>
<line x1="1112.5" y1="260.5" x2="1112.5" y2="282.2" stroke="#3434ff" stroke-width="1"/>
<rect x="1111.5" y="261.5" width="2" height="15" fill="#fff" stroke="#3434ff" stroke-width="1"/>
<line x1="1118.5" y1="255.1" x2="1118.5" y2="272.2" stroke="#3434ff" stroke-width="1"/>
<rect x="1117.0" y="261" width="3" height="5" fill="#3434ff"/>
<line x1="1123.5" y1="252.0" x2="1123.5" y2="266.7" stroke="#3434ff" stroke-width="1"/>
<rect x="1122.5" y="261.5" width="2" height="3" fill="#fff" stroke="#3434ff" stroke-width="1"/>
<line x1="1129.5" y1="255.9" x2="1129.5" y2="270.6" stroke="#3434ff" stroke-width="1"/>
<rect x="1128.0" y="261" width="3" height="10" fill="#3434ff"/>
<line x1="1134.5" y1="264.4" x2="1134.5" y2="281.5" stroke="#3434ff" stroke-width="1"/>
<rect x="1133.0" y="271" width="3" height="5" fill="#3434ff"/>
<line x1="1140.5" y1="271.4" x2="1140.5" y2="303.1" stroke="#3434ff" stroke-width="1"/>
<rect x="1139.0" y="275" width="3" height="17" fill="#3434ff"/>
<line x1="1146.5" y1="285.3" x2="1146.5" y2="297.7" stroke="#3434ff" stroke-width="1"/>
<rect x="1145.5" y="288.5" width="2" height="3" fill="#fff" stroke="#3434ff" stroke-width="1"/>
<line x1="1151.5" y1="286.1" x2="1151.5" y2="305.5" stroke="#3434ff" stroke-width="1"/>
<rect x="1150.0" y="288" width="3" height="17" fill="#3434ff"/>
<line x1="1157.5" y1="299.8" x2="1157.5" y2="315.3" stroke="#3434ff" stroke-width="1"/>
<rect x="1156.0" y="303" width="3" height="4" fill="#3434ff"/>
<line x1="1162.5" y1="288.2" x2="1162.5" y2="307.5" stroke="#3434ff" stroke-width="1"/>
<rect x="1161.5" y="292.5" width="2" height="14" fill="#fff" stroke="#3434ff" stroke-width="1"/>
<line x1="1168.5" y1="283.5" x2="1168.5" y2="298.3" stroke="#3434ff" stroke-width="1"/>
<rect x="1167.5" y="284.5" width="2" height="8" fill="#fff" stroke="#3434ff" stroke-width="1"/>
<line x1="1173.5" y1="265.0" x2="1173.5" y2="290.5" stroke="#3434ff" stroke-width="1"/>
<rect x="1172.5" y="268.5" width="2" height="16" fill="#fff" stroke="#3434ff" stroke-width="1"/>
<line x1="1179.5" y1="264.2" x2="1179.5" y2="278.1" stroke="#3434ff" stroke-width="1"/>
<rect x="1178.0" y="269" width="3" height="1" fill="#3434ff"/>
<line x1="1185.5" y1="266.5" x2="1185.5" y2="281.2" stroke="#3434ff" stroke-width="1"/>
<rect x="1184.0" y="268" width="3" height="2" fill="#3434ff"/>
<line x1="1190.5" y1="267.3" x2="1190.5" y2="285.1" stroke="#3434ff" stroke-width="1"/>
<rect x="1189.0" y="271" width="3" height="11" fill="#3434ff"/>
<line x1="1196.5" y1="258.8" x2="1196.5" y2="288.2" stroke="#3434ff" stroke-width="1"/>
<rect x="1195.5" y="260.5" width="2" height="20" fill="#fff" stroke="#3434ff" stroke-width="1"/>
<line x1="1201.5" y1="249.5" x2="1201.5" y2="265.0" stroke="#3434ff" stroke-width="1"/>
<rect x="1200.5" y="252.5" width="2" height="8" fill="#fff" stroke="#3434ff" stroke-width="1"/>
<line x1="1207.5" y1="233.2" x2="1207.5" y2="259.5" stroke="#3434ff" stroke-width="1"/>
<rect x="1206.5" y="237.5" width="2" height="15" fill="#fff" stroke="#3434ff" stroke-width="1"/>
<line x1="1213.5" y1="229.4" x2="1213.5" y2="244.8" stroke="#3434ff" stroke-width="1"/>
<rect x="1212.0" y="238" width="3" height="1" fill="#3434ff"/>
<line x1="1218.5" y1="234.8" x2="1218.5" y2="246.4" stroke="#3434ff" stroke-width="1"/>
<rect x="1217.0" y="237" width="3" height="1" fill="#3434ff"/>
<line x1="1224.5" y1="227.0" x2="1224.5" y2="238.6" stroke="#3434ff" stroke-width="1"/>
<rect x="1223.5" y="232.5" width="2" height="3" fill="#fff" stroke="#3434ff" stroke-width="1"/>
<line x1="1229.5" y1="229.4" x2="1229.5" y2="247.2" stroke="#3434ff" stroke-width="1"/>
<rect x="1228.0" y="232" width="3" height="6" fill="#3434ff"/>
<line x1="1235.5" y1="233.2" x2="1235.5" y2="255.7" stroke="#3434ff" stroke-width="1"/>
<rect x="1234.0" y="237" width="3" height="7" fill="#3434ff"/>
<line x1="1240.5" y1="242.5" x2="1240.5" y2="266.5" stroke="#3434ff" stroke-width="1"/>
<rect x="1239.0" y="243" width="3" height="14" fill="#3434ff"/>
<line x1="1246.5" y1="249.5" x2="1246.5" y2="260.3" stroke="#3434ff" stroke-width="1"/>
<rect x="1245.0" y="255" width="3" height="1" fill="#3434ff"/>
<line x1="1252.5" y1="237.1" x2="1252.5" y2="259.5" stroke="#3434ff" stroke-width="1"/>
<rect x="1251.5" y="239.5" width="2" height="20" fill="#fff" stroke="#3434ff" stroke-width="1"/>
<line x1="1257.5" y1="234.0" x2="1257.5" y2="244.8" stroke="#3434ff" stroke-width="1"/>
<rect x="1256.0" y="238" width="3" height="1" fill="#3434ff"/>
<line x1="1263.5" y1="219.3" x2="1263.5" y2="243.3" stroke="#3434ff" stroke-width="1"/>
<rect x="1262.5" y="222.5" width="2" height="20" fill="#fff" stroke="#3434ff" stroke-width="1"/>
<line x1="1268.5" y1="217.0" x2="1268.5" y2="234.0" stroke="#3434ff" stroke-width="1"/>
<rect x="1267.0" y="223" width="3" height="7" fill="#3434ff"/>
<line x1="1274.5" y1="220.1" x2="1274.5" y2="244.8" stroke="#3434ff" stroke-width="1"/>
<rect x="1273.0" y="230" width="3" height="1" fill="#3434ff"/>
<line x1="1279.5" y1="227.0" x2="1279.5" y2="245.6" stroke="#3434ff" stroke-width="1"/>
<rect x="1278.0" y="229" width="3" height="10" fill="#3434ff"/>
<line x1="1285.5" y1="228.6" x2="1285.5" y2="242.5" stroke="#3434ff" stroke-width="1"/>
<rect x="1284.5" y="232.5" width="2" height="6" fill="#fff" stroke="#3434ff" stroke-width="1"/>
<line x1="1291.5" y1="234.0" x2="1291.5" y2="291.3" stroke="#3434ff" stroke-width="1"/>
<rect x="1290.0" y="236" width="3" height="51" fill="#3434ff"/>
<line x1="1296.5" y1="285.9" x2="1296.5" y2="356.5" stroke="#3434ff" stroke-width="1"/>
<rect x="1295.0" y="289" width="3" height="59" fill="#3434ff"/>
<line x1="1302.5" y1="315.1" x2="1302.5" y2="385.4" stroke="#3434ff" stroke-width="1"/>
<rect x="1301.5" y="333.5" width="2" height="14" fill="#fff" stroke="#3434ff" stroke-width="1"/>
<line x1="1307.5" y1="322.9" x2="1307.5" y2="345.6" stroke="#3434ff" stroke-width="1"/>
<rect x="1306.0" y="334" width="3" height="7" fill="#3434ff"/>
<line x1="1313.5" y1="309.1" x2="1313.5" y2="352.3" stroke="#3434ff" stroke-width="1"/>
<rect x="1312.5" y="309.5" width="2" height="31" fill="#fff" stroke="#3434ff" stroke-width="1"/>
<line x1="1319.5" y1="302.1" x2="1319.5" y2="320.7" stroke="#3434ff" stroke-width="1"/>
<rect x="1318.5" y="305.5" width="2" height="5" fill="#fff" stroke="#3434ff" stroke-width="1"/>
<line x1="1324.5" y1="276.6" x2="1324.5" y2="312.2" stroke="#3434ff" stroke-width="1"/>
<rect x="1323.5" y="277.5" width="2" height="27" fill="#fff" stroke="#3434ff" stroke-width="1"/>
<line x1="1330.5" y1="274.3" x2="1330.5" y2="290.5" stroke="#3434ff" stroke-width="1"/>
<rect x="1329.5" y="275.5" width="2" height="1" fill="#fff" stroke="#3434ff" stroke-width="1"/>
<line x1="1335.5" y1="274.3" x2="1335.5" y2="282.8" stroke="#3434ff" stroke-width="1"/>
<rect x="1334.0" y="277" width="3" height="1" fill="#3434ff"/>
<line x1="1341.5" y1="254.9" x2="1341.5" y2="277.4" stroke="#3434ff" stroke-width="1"/>
<rect x="1340.5" y="264.5" width="2" height="11" fill="#fff" stroke="#3434ff" stroke-width="1"/>
<line x1="1346.5" y1="260.3" x2="1346.5" y2="282.0" stroke="#3434ff" stroke-width="1"/>
<rect x="1345.0" y="264" width="3" height="5" fill="#3434ff"/>
<line x1="1352.5" y1="256.5" x2="1352.5" y2="273.5" stroke="#3434ff" stroke-width="1"/>
<rect x="1351.5" y="266.5" width="2" height="2" fill="#fff" stroke="#3434ff" stroke-width="1"/>
<line x1="1358.5" y1="254.1" x2="1358.5" y2="276.6" stroke="#3434ff" stroke-width="1"/>
<rect x="1357.0" y="267" width="3" height="3" fill="#3434ff"/>
<line x1="1363.5" y1="241.0" x2="1363.5" y2="281.2" stroke="#3434ff" stroke-width="1"/>
<rect x="1362.5" y="243.5" width="2" height="32" fill="#fff" stroke="#3434ff" stroke-width="1"/>
<line x1="1369.5" y1="241.0" x2="1369.5" y2="254.1" stroke="#3434ff" stroke-width="1"/>
<rect x="1368.0" y="243" width="3" height="1" fill="#3434ff"/>
<line x1="1374.5" y1="241.0" x2="1374.5" y2="263.4" stroke="#3434ff" stroke-width="1"/>
<rect x="1373.0" y="244" width="3" height="12" fill="#3434ff"/>
<line x1="1380.5" y1="252.6" x2="1380.5" y2="266.5" stroke="#3434ff" stroke-width="1"/>
<rect x="1379.5" y="254.5" width="2" height="1" fill="#fff" stroke="#3434ff" stroke-width="1"/>
<line x1="1386.5" y1="244.5" x2="1386.5" y2="263.1" stroke="#3434ff" stroke-width="1"/>
<rect x="1385.0" y="255" width="3" height="5" fill="#3434ff"/>
<line x1="1391.5" y1="255.3" x2="1391.5" y2="279.3" stroke="#3434ff" stroke-width="1"/>
<rect x="1390.0" y="261" width="3" height="8" fill="#3434ff"/>
<line x1="1397.5" y1="266.2" x2="1397.5" y2="292.5" stroke="#3434ff" stroke-width="1"/>
<rect x="1396.0" y="268" width="3" height="6" fill="#3434ff"/>
<line x1="1402.5" y1="265.4" x2="1402.5" y2="285.5" stroke="#3434ff" stroke-width="1"/>
<rect x="1401.0" y="273" width="3" height="12" fill="#3434ff"/>
<line x1="1408.5" y1="266.2" x2="1408.5" y2="285.5" stroke="#3434ff" stroke-width="1"/>
<rect x="1407.5" y="272.5" width="2" height="12" fill="#fff" stroke="#3434ff" stroke-width="1"/>
<line x1="1413.5" y1="250.7" x2="1413.5" y2="272.4" stroke="#3434ff" stroke-width="1"/>
<rect x="1412.5" y="251.5" width="2" height="20" fill="#fff" stroke="#3434ff" stroke-width="1"/>
<line x1="1419.5" y1="251.5" x2="1419.5" y2="277.8" stroke="#3434ff" stroke-width="1"/>
<rect x="1418.0" y="252" width="3" height="20" fill="#3434ff"/>
<line x1="1425.5" y1="259.2" x2="1425.5" y2="278.5" stroke="#3434ff" stroke-width="1"/>
<rect x="1424.0" y="271" width="3" height="1" fill="#3434ff"/>
<line x1="1430.5" y1="261.5" x2="1430.5" y2="278.5" stroke="#3434ff" stroke-width="1"/>
<rect x="1429.5" y="266.5" width="2" height="5" fill="#fff" stroke="#3434ff" stroke-width="1"/>
<line x1="1436.5" y1="257.6" x2="1436.5" y2="287.8" stroke="#3434ff" stroke-width="1"/>
<rect x="1435.0" y="268" width="3" height="8" fill="#3434ff"/>
<line x1="1441.5" y1="252.2" x2="1441.5" y2="270.0" stroke="#3434ff" stroke-width="1"/>
<rect x="1440.5" y="262.5" width="2" height="5" fill="#fff" stroke="#3434ff" stroke-width="1"/>
<line x1="1447.5" y1="259.2" x2="1447.5" y2="281.6" stroke="#3434ff" stroke-width="1"/>
<rect x="1446.0" y="260" width="3" height="19" fill="#3434ff"/>
<line x1="1453.5" y1="266.2" x2="1453.5" y2="293.3" stroke="#3434ff" stroke-width="1"/>
<rect x="1452.5" y="267.5" width="2" height="10" fill="#fff" stroke="#3434ff" stroke-width="1"/>
<line x1="1458.5" y1="266.9" x2="1458.5" y2="287.8" stroke="#3434ff" stroke-width="1"/>
<rect x="1457.0" y="268" width="3" height="9" fill="#3434ff"/>
<line x1="1464.5" y1="267.7" x2="1464.5" y2="277.0" stroke="#3434ff" stroke-width="1"/>
<rect x="1463.5" y="275.5" width="2" height="1" fill="#fff" stroke="#3434ff" stroke-width="1"/>
<line x1="1469.5" y1="254.5" x2="1469.5" y2="280.9" stroke="#3434ff" stroke-width="1"/>
<rect x="1468.5" y="256.5" width="2" height="18" fill="#fff" stroke="#3434ff" stroke-width="1"/>
<line x1="1475.5" y1="242.9" x2="1475.5" y2="259.2" stroke="#3434ff" stroke-width="1"/>
<rect x="1474.5" y="248.5" width="2" height="6" fill="#fff" stroke="#3434ff" stroke-width="1"/>
<line x1="1480.5" y1="239.4" x2="1480.5" y2="267.7" stroke="#3434ff" stroke-width="1"/>
<rect x="1479.0" y="248" width="3" height="9" fill="#3434ff"/>
<line x1="1486.5" y1="242.9" x2="1486.5" y2="260.7" stroke="#3434ff" stroke-width="1"/>
<rect x="1485.5" y="245.5" width="2" height="12" fill="#fff" stroke="#3434ff" stroke-width="1"/>
<line x1="1492.5" y1="242.9" x2="1492.5" y2="251.5" stroke="#3434ff" stroke-width="1"/>
<rect x="1491.0" y="246" width="3" height="4" fill="#3434ff"/>
<line x1="1497.5" y1="244.5" x2="1497.5" y2="263.8" stroke="#3434ff" stroke-width="1"/>
<rect x="1496.0" y="246" width="3" height="5" fill="#3434ff"/>
<line x1="1503.5" y1="246.0" x2="1503.5" y2="260.7" stroke="#3434ff" stroke-width="1"/>
<rect x="1502.0" y="247" width="3" height="12" fill="#3434ff"/>
<line x1="1508.5" y1="246.0" x2="1508.5" y2="265.4" stroke="#3434ff" stroke-width="1"/>
<rect x="1507.5" y="250.5" width="2" height="7" fill="#fff" stroke="#3434ff" stroke-width="1"/>
<line x1="1514.5" y1="249.9" x2="1514.5" y2="265.4" stroke="#3434ff" stroke-width="1"/>
<rect x="1513.0" y="251" width="3" height="9" fill="#3434ff"/>
<line x1="1519.5" y1="211.9" x2="1519.5" y2="259.2" stroke="#3434ff" stroke-width="1"/>
<rect x="1518.5" y="212.5" width="2" height="45" fill="#fff" stroke="#3434ff" stroke-width="1"/>
<line x1="1525.5" y1="212.7" x2="1525.5" y2="232.8" stroke="#3434ff" stroke-width="1"/>
<rect x="1524.0" y="213" width="3" height="6" fill="#3434ff"/>
<line x1="1531.5" y1="207.3" x2="1531.5" y2="227.4" stroke="#3434ff" stroke-width="1"/>
<rect x="1530.5" y="208.5" width="2" height="9" fill="#fff" stroke="#3434ff" stroke-width="1"/>
<line x1="1536.5" y1="176.3" x2="1536.5" y2="221.2" stroke="#3434ff" stroke-width="1"/>
<rect x="1535.5" y="177.5" width="2" height="29" fill="#fff" stroke="#3434ff" stroke-width="1"/>
<line x1="1542.5" y1="170.9" x2="1542.5" y2="191.0" stroke="#3434ff" stroke-width="1"/>
<rect x="1541.0" y="182" width="3" height="8" fill="#3434ff"/>
<line x1="1547.5" y1="157.7" x2="1547.5" y2="182.5" stroke="#3434ff" stroke-width="1"/>
<rect x="1546.5" y="162.5" width="2" height="19" fill="#fff" stroke="#3434ff" stroke-width="1"/>
<line x1="1553.5" y1="159.3" x2="1553.5" y2="171.7" stroke="#3434ff" stroke-width="1"/>
<rect x="1552.0" y="162" width="3" height="3" fill="#3434ff"/>
<line x1="1559.5" y1="163.2" x2="1559.5" y2="179.4" stroke="#3434ff" stroke-width="1"/>
<rect x="1558.0" y="169" width="3" height="6" fill="#3434ff"/>
<line x1="1564.5" y1="170.1" x2="1564.5" y2="194.9" stroke="#3434ff" stroke-width="1"/>
<rect x="1563.5" y="170.5" width="2" height="3" fill="#fff" stroke="#3434ff" stroke-width="1"/>
<line x1="1570.5" y1="164.7" x2="1570.5" y2="180.2" stroke="#3434ff" stroke-width="1"/>
<rect x="1569.0" y="172" width="3" height="1" fill="#3434ff"/>
<line x1="1575.5" y1="166.3" x2="1575.5" y2="177.1" stroke="#3434ff" stroke-width="1"/>
<rect x="1574.0" y="170" width="3" height="1" fill="#3434ff"/>
<line x1="1581.5" y1="147.4" x2="1581.5" y2="176.3" stroke="#3434ff" stroke-width="1"/>
<rect x="1580.5" y="147.5" width="2" height="24" fill="#fff" stroke="#3434ff" stroke-width="1"/>
<line x1="1586.5" y1="147.1" x2="1586.5" y2="166.6" stroke="#3434ff" stroke-width="1"/>
<rect x="1585.0" y="147" width="3" height="15" fill="#3434ff"/>
<line x1="1592.5" y1="160.1" x2="1592.5" y2="174.8" stroke="#3434ff" stroke-width="1"/>
<rect x="1591.0" y="162" width="3" height="8" fill="#3434ff"/>
<line x1="1598.5" y1="169.4" x2="1598.5" y2="192.6" stroke="#3434ff" stroke-width="1"/>
<rect x="1597.0" y="169" width="3" height="11" fill="#3434ff"/>
<line x1="1603.5" y1="171.7" x2="1603.5" y2="185.6" stroke="#3434ff" stroke-width="1"/>
<rect x="1602.5" y="178.5" width="2" height="0.01" fill="#fff" stroke="#3434ff" stroke-width="1"/>
<line x1="1609.5" y1="175.5" x2="1609.5" y2="198.0" stroke="#3434ff" stroke-width="1"/>
<rect x="1608.0" y="178" width="3" height="5" fill="#3434ff"/>
<line x1="1614.5" y1="172.5" x2="1614.5" y2="188.7" stroke="#3434ff" stroke-width="1"/>
<rect x="1613.5" y="172.5" width="2" height="10" fill="#fff" stroke="#3434ff" stroke-width="1"/>
<line x1="1620.5" y1="158.5" x2="1620.5" y2="174.8" stroke="#3434ff" stroke-width="1"/>
<rect x="1619.5" y="165.5" width="2" height="8" fill="#fff" stroke="#3434ff" stroke-width="1"/>
<line x1="1626.5" y1="161.6" x2="1626.5" y2="185.6" stroke="#3434ff" stroke-width="1"/>
<rect x="1625.0" y="164" width="3" height="17" fill="#3434ff"/>
<line x1="1631.5" y1="174.8" x2="1631.5" y2="195.7" stroke="#3434ff" stroke-width="1"/>
<rect x="1630.5" y="178.5" width="2" height="4" fill="#fff" stroke="#3434ff" stroke-width="1"/>
<line x1="1637.5" y1="164.7" x2="1637.5" y2="185.6" stroke="#3434ff" stroke-width="1"/>
<rect x="1636.0" y="178" width="3" height="1" fill="#3434ff"/>
<line x1="1642.5" y1="164.7" x2="1642.5" y2="183.3" stroke="#3434ff" stroke-width="1"/>
<rect x="1641.5" y="166.5" width="2" height="12" fill="#fff" stroke="#3434ff" stroke-width="1"/>
<line x1="1648.5" y1="152.4" x2="1648.5" y2="171.7" stroke="#3434ff" stroke-width="1"/>
<rect x="1647.5" y="159.5" width="2" height="7" fill="#fff" stroke="#3434ff" stroke-width="1"/>
<line x1="1653.5" y1="155.5" x2="1653.5" y2="164.0" stroke="#3434ff" stroke-width="1"/>
<rect x="1652.5" y="156.5" width="2" height="3" fill="#fff" stroke="#3434ff" stroke-width="1"/>
<line x1="1659.5" y1="148.5" x2="1659.5" y2="175.6" stroke="#3434ff" stroke-width="1"/>
<rect x="1658.0" y="158" width="3" height="4" fill="#3434ff"/>
<line x1="1665.5" y1="157.8" x2="1665.5" y2="172.5" stroke="#3434ff" stroke-width="1"/>
<rect x="1664.0" y="160" width="3" height="2" fill="#3434ff"/>
<line x1="1670.5" y1="160.9" x2="1670.5" y2="173.3" stroke="#3434ff" stroke-width="1"/>
<rect x="1669.0" y="162" width="3" height="10" fill="#3434ff"/>
<line x1="1676.5" y1="151.6" x2="1676.5" y2="172.5" stroke="#3434ff" stroke-width="1"/>
<rect x="1675.5" y="153.5" width="2" height="18" fill="#fff" stroke="#3434ff" stroke-width="1"/>
<line x1="1681.5" y1="115.2" x2="1681.5" y2="156.2" stroke="#3434ff" stroke-width="1"/>
<rect x="1680.5" y="119.5" width="2" height="35" fill="#fff" stroke="#3434ff" stroke-width="1"/>
<line x1="1687.5" y1="98.9" x2="1687.5" y2="126.8" stroke="#3434ff" stroke-width="1"/>
<rect x="1686.0" y="118" width="3" height="7" fill="#3434ff"/>
<line x1="1693.5" y1="118.3" x2="1693.5" y2="138.4" stroke="#3434ff" stroke-width="1"/>
<rect x="1692.0" y="124" width="3" height="12" fill="#3434ff"/>
<line x1="1698.5" y1="126.8" x2="1698.5" y2="140.7" stroke="#3434ff" stroke-width="1"/>
<rect x="1697.5" y="130.5" width="2" height="6" fill="#fff" stroke="#3434ff" stroke-width="1"/>
<line x1="1704.5" y1="123.7" x2="1704.5" y2="140.0" stroke="#3434ff" stroke-width="1"/>
<rect x="1703.5" y="126.5" width="2" height="4" fill="#fff" stroke="#3434ff" stroke-width="1"/>
<line x1="1709.5" y1="116.7" x2="1709.5" y2="127.6" stroke="#3434ff" stroke-width="1"/>
<rect x="1708.5" y="124.5" width="2" height="1" fill="#fff" stroke="#3434ff" stroke-width="1"/>
<line x1="1715.5" y1="101.3" x2="1715.5" y2="126.0" stroke="#3434ff" stroke-width="1"/>
<rect x="1714.5" y="105.5" width="2" height="20" fill="#fff" stroke="#3434ff" stroke-width="1"/>
<line x1="1720.5" y1="94.3" x2="1720.5" y2="109.8" stroke="#3434ff" stroke-width="1"/>
<rect x="1719.5" y="95.5" width="2" height="11" fill="#fff" stroke="#3434ff" stroke-width="1"/>
<line x1="1726.5" y1="89.3" x2="1726.5" y2="101.3" stroke="#3434ff" stroke-width="1"/>
<rect x="1725.0" y="95" width="3" height="1" fill="#3434ff"/>
<line x1="1732.5" y1="93.5" x2="1732.5" y2="110.5" stroke="#3434ff" stroke-width="1"/>
<rect x="1731.0" y="96" width="3" height="4" fill="#3434ff"/>
<line x1="1737.5" y1="97.4" x2="1737.5" y2="129.1" stroke="#3434ff" stroke-width="1"/>
<rect x="1736.0" y="102" width="3" height="23" fill="#3434ff"/>
<line x1="1743.5" y1="119.8" x2="1743.5" y2="131.5" stroke="#3434ff" stroke-width="1"/>
<rect x="1742.5" y="124.5" width="2" height="3" fill="#fff" stroke="#3434ff" stroke-width="1"/>
<line x1="1748.5" y1="120.6" x2="1748.5" y2="131.5" stroke="#3434ff" stroke-width="1"/>
<rect x="1747.0" y="124" width="3" height="1" fill="#3434ff"/>
<line x1="1754.5" y1="122.2" x2="1754.5" y2="160.1" stroke="#3434ff" stroke-width="1"/>
<rect x="1753.0" y="124" width="3" height="28" fill="#3434ff"/>
<line x1="1759.5" y1="147.7" x2="1759.5" y2="174.8" stroke="#3434ff" stroke-width="1"/>
<rect x="1758.0" y="152" width="3" height="10" fill="#3434ff"/>
<line x1="1765.5" y1="149.3" x2="1765.5" y2="170.9" stroke="#3434ff" stroke-width="1"/>
<rect x="1764.5" y="153.5" width="2" height="10" fill="#fff" stroke="#3434ff" stroke-width="1"/>
<line x1="1771.5" y1="141.5" x2="1771.5" y2="163.2" stroke="#3434ff" stroke-width="1"/>
<rect x="1770.5" y="145.5" width="2" height="7" fill="#fff" stroke="#3434ff" stroke-width="1"/>
<line x1="1776.5" y1="130.7" x2="1776.5" y2="146.2" stroke="#3434ff" stroke-width="1"/>
<rect x="1775.5" y="132.5" width="2" height="12" fill="#fff" stroke="#3434ff" stroke-width="1"/>
<line x1="1782.5" y1="129.9" x2="1782.5" y2="138.4" stroke="#3434ff" stroke-width="1"/>
<rect x="1781.0" y="133" width="3" height="1" fill="#3434ff"/>
<line x1="1787.5" y1="116.0" x2="1787.5" y2="133.0" stroke="#3434ff" stroke-width="1"/>
<rect x="1786.5" y="121.5" width="2" height="10" fill="#fff" stroke="#3434ff" stroke-width="1"/>
<line x1="1793.5" y1="116.0" x2="1793.5" y2="129.1" stroke="#3434ff" stroke-width="1"/>
<rect x="1792.0" y="121" width="3" height="1" fill="#3434ff"/>
<polyline points="10.0,493.2 12.2,492.8 17.8,491.8 23.4,490.9 28.9,490.0 34.5,489.0 40.1,488.1 45.7,487.3 51.3,486.4 56.9,485.6 62.4,484.8 68.0,484.0 73.6,483.2 79.2,482.4 84.8,481.6 90.3,480.9 95.9,480.1 101.5,479.3 107.1,478.6 112.7,477.8 118.2,477.1 123.8,476.4 129.4,475.7 135.0,475.0 140.6,474.3 146.2,473.6 151.7,473.0 157.3,472.4 162.9,471.7 168.5,471.1 174.1,470.5 179.6,469.9 185.2,469.3 190.8,468.7 196.4,468.2 202.0,467.6 207.5,467.1 213.1,466.5 218.7,465.9 224.3,465.4 229.9,464.8 235.5,464.3 241.0,463.7 246.6,463.1 252.2,462.6 257.8,462.0 263.4,461.4 268.9,460.9 274.5,460.3 280.1,459.7 285.7,459.1 291.3,458.5 296.9,457.8 302.4,457.2 308.0,456.5 313.6,455.8 319.2,455.1 324.8,454.5 330.3,453.8 335.9,453.2 341.5,452.6 347.1,452.0 352.7,451.4 358.2,450.9 363.8,450.3 369.4,449.7 375.0,449.2 380.6,448.6 386.2,448.1 391.7,447.5 397.3,447.0 402.9,446.4 408.5,445.9 414.1,445.4 419.6,444.9 425.2,444.4 430.8,443.9 436.4,443.5 442.0,443.0 447.5,442.5 453.1,442.1 458.7,441.6 464.3,441.0 469.9,440.4 475.5,439.8 481.0,439.2 486.6,438.5 492.2,437.8 497.8,437.0 503.4,436.2 508.9,435.4 514.5,434.6 520.1,433.7 525.7,432.8 531.3,431.8 536.9,430.8 542.4,429.9 548.0,428.9 553.6,427.9 559.2,426.9 564.8,426.0 570.3,425.0 575.9,424.0 581.5,423.1 587.1,422.2 592.7,421.3 598.2,420.4 603.8,419.6 609.4,418.8 615.0,417.9 620.6,417.0 626.2,416.1 631.7,415.2 637.3,414.2 642.9,413.2 648.5,412.1 654.1,411.1 659.6,410.0 665.2,408.9 670.8,407.8 676.4,406.8 682.0,405.8 687.5,404.9 693.1,404.0 698.7,403.2 704.3,402.4 709.9,401.7 715.5,401.0 721.0,400.4 726.6,399.8 732.2,399.1 737.8,398.6 743.4,398.0 748.9,397.4 754.5,396.8 760.1,396.2 765.7,395.6 771.3,395.0 776.9,394.4 782.4,393.8 788.0,393.1 793.6,392.4 799.2,391.7 804.8,391.0 810.3,390.2 815.9,389.5 821.5,388.6 827.1,387.8 832.7,386.9 838.2,386.0 843.8,385.0 849.4,384.1 855.0,383.2 860.6,382.3 866.2,381.4 871.7,380.6 877.3,379.8 882.9,379.0 888.5,378.2 894.1,377.5 899.6,376.8 905.2,376.0 910.8,375.3 916.4,374.5 922.0,373.7 927.5,372.9 933.1,372.1 938.7,371.3 944.3,370.5 949.9,369.6 955.5,368.8 961.0,367.9 966.6,367.1 972.2,366.3 977.8,365.4 983.4,364.6 988.9,363.8 994.5,362.9 1000.1,362.1 1005.7,361.2 1011.3,360.4 1016.9,359.6 1022.4,358.7 1028.0,357.9 1033.6,357.0 1039.2,356.1 1044.8,355.2 1050.3,354.3 1055.9,353.4 1061.5,352.4 1067.1,351.5 1072.7,350.5 1078.2,349.6 1083.8,348.7 1089.4,347.8 1095.0,346.9 1100.6,346.0 1106.2,345.1 1111.7,344.3 1117.3,343.5 1122.9,342.7 1128.5,342.0 1134.1,341.2 1139.6,340.5 1145.2,339.8 1150.8,339.1 1156.4,338.4 1162.0,337.6 1167.5,336.7 1173.1,335.9 1178.7,335.0 1184.3,334.1 1189.9,333.2 1195.5,332.3 1201.0,331.4 1206.6,330.6 1212.2,329.8 1217.8,329.0 1223.4,328.3 1228.9,327.6 1234.5,326.9 1240.1,326.2 1245.7,325.6 1251.3,325.0 1256.9,324.4 1262.4,323.8 1268.0,323.2 1273.6,322.7 1279.2,322.1 1284.8,321.6 1290.3,321.1 1295.9,320.6 1301.5,320.1 1307.1,319.7 1312.7,319.2 1318.2,318.8 1323.8,318.4 1329.4,317.9 1335.0,317.4 1340.6,316.9 1346.2,316.4 1351.7,315.9 1357.3,315.3 1362.9,314.8 1368.5,314.3 1374.1,313.8 1379.6,313.4 1385.2,312.9 1390.8,312.5 1396.4,312.1 1402.0,311.8 1407.6,311.4 1413.1,311.1 1418.7,310.9 1424.3,310.7 1429.9,310.5 1435.5,310.4 1441.0,310.3 1446.6,310.1 1452.2,310.0 1457.8,309.9 1463.4,309.7 1468.9,309.5 1474.5,309.3 1480.1,309.1 1485.7,308.9 1491.3,308.6 1496.9,308.3 1502.4,307.9 1508.0,307.4 1513.6,306.9 1519.2,306.3 1524.8,305.8 1530.3,305.1 1535.9,304.5 1541.5,303.9 1547.1,303.2 1552.7,302.5 1558.2,301.9 1563.8,301.2 1569.4,300.5 1575.0,299.8 1580.6,299.1 1586.2,298.5 1591.7,297.8 1597.3,297.1 1602.9,296.5 1608.5,295.8 1614.1,295.2 1619.6,294.6 1625.2,294.0 1630.8,293.4 1636.4,292.8 1642.0,292.2 1647.6,291.6 1653.1,290.8 1658.7,290.0 1664.3,289.2 1669.9,288.3 1675.5,287.3 1681.0,286.2 1686.6,285.2 1692.2,284.1 1697.8,283.0 1703.4,281.9 1708.9,280.9 1714.5,279.8 1720.1,278.8 1725.7,277.8 1731.3,276.8 1736.9,275.9 1742.4,274.9 1748.0,274.0 1753.6,273.1 1759.2,272.2 1764.8,271.3 1770.3,270.5 1775.9,269.7 1781.5,268.9 1787.1,268.2 1792.7,267.4" fill="none" stroke="#444444" stroke-width="1.9" stroke-linejoin="round" stroke-linecap="round" opacity="1"/>
<polyline points="10.0,492.0 12.2,491.5 17.8,490.3 23.4,489.0 28.9,487.8 34.5,486.6 40.1,485.4 45.7,484.2 51.3,483.0 56.9,481.9 62.4,480.8 68.0,479.7 73.6,478.7 79.2,477.6 84.8,476.7 90.3,475.7 95.9,474.8 101.5,473.9 107.1,473.1 112.7,472.3 118.2,471.5 123.8,470.7 129.4,470.0 135.0,469.3 140.6,468.6 146.2,467.9 151.7,467.2 157.3,466.5 162.9,465.8 168.5,465.1 174.1,464.3 179.6,463.6 185.2,462.8 190.8,462.0 196.4,461.1 202.0,460.1 207.5,459.1 213.1,457.9 218.7,456.8 224.3,455.6 229.9,454.3 235.5,453.1 241.0,451.9 246.6,450.8 252.2,449.7 257.8,448.7 263.4,447.8 268.9,447.0 274.5,446.3 280.1,445.6 285.7,444.9 291.3,444.2 296.9,443.6 302.4,442.9 308.0,442.2 313.6,441.5 319.2,440.8 324.8,440.1 330.3,439.5 335.9,438.8 341.5,438.1 347.1,437.4 352.7,436.6 358.2,435.9 363.8,435.2 369.4,434.5 375.0,433.7 380.6,433.0 386.2,432.2 391.7,431.4 397.3,430.6 402.9,429.8 408.5,429.0 414.1,428.3 419.6,427.5 425.2,426.8 430.8,426.2 436.4,425.6 442.0,425.0 447.5,424.4 453.1,423.8 458.7,423.2 464.3,422.5 469.9,421.9 475.5,421.2 481.0,420.6 486.6,419.9 492.2,419.1 497.8,418.3 503.4,417.5 508.9,416.6 514.5,415.7 520.1,414.7 525.7,413.7 531.3,412.6 536.9,411.6 542.4,410.5 548.0,409.5 553.6,408.5 559.2,407.6 564.8,406.7 570.3,405.7 575.9,404.8 581.5,403.9 587.1,403.0 592.7,402.0 598.2,401.1 603.8,400.1 609.4,399.0 615.0,398.0 620.6,396.8 626.2,395.6 631.7,394.4 637.3,393.1 642.9,391.8 648.5,390.4 654.1,389.0 659.6,387.6 665.2,386.3 670.8,384.9 676.4,383.5 682.0,382.1 687.5,380.7 693.1,379.4 698.7,378.1 704.3,376.8 709.9,375.6 715.5,374.4 721.0,373.3 726.6,372.2 732.2,371.2 737.8,370.2 743.4,369.2 748.9,368.2 754.5,367.2 760.1,366.2 765.7,365.3 771.3,364.3 776.9,363.3 782.4,362.3 788.0,361.3 793.6,360.3 799.2,359.2 804.8,358.2 810.3,357.1 815.9,356.0 821.5,354.9 827.1,353.9 832.7,352.8 838.2,351.8 843.8,350.8 849.4,349.9 855.0,349.0 860.6,348.2 866.2,347.4 871.7,346.7 877.3,346.0 882.9,345.4 888.5,344.8 894.1,344.2 899.6,343.6 905.2,343.0 910.8,342.5 916.4,341.9 922.0,341.4 927.5,340.8 933.1,340.2 938.7,339.7 944.3,339.2 949.9,338.6 955.5,338.1 961.0,337.6 966.6,337.1 972.2,336.6 977.8,336.1 983.4,335.6 988.9,335.2 994.5,334.7 1000.1,334.3 1005.7,333.9 1011.3,333.5 1016.9,333.1 1022.4,332.7 1028.0,332.4 1033.6,332.0 1039.2,331.6 1044.8,331.2 1050.3,330.8 1055.9,330.4 1061.5,330.0 1067.1,329.6 1072.7,329.2 1078.2,328.7 1083.8,328.3 1089.4,327.8 1095.0,327.4 1100.6,326.9 1106.2,326.4 1111.7,325.9 1117.3,325.4 1122.9,324.9 1128.5,324.5 1134.1,324.0 1139.6,323.6 1145.2,323.1 1150.8,322.7 1156.4,322.3 1162.0,322.0 1167.5,321.7 1173.1,321.3 1178.7,321.0 1184.3,320.7 1189.9,320.4 1195.5,320.1 1201.0,319.7 1206.6,319.4 1212.2,319.0 1217.8,318.6 1223.4,318.2 1228.9,317.8 1234.5,317.4 1240.1,317.0 1245.7,316.6 1251.3,316.2 1256.9,315.8 1262.4,315.3 1268.0,314.9 1273.6,314.5 1279.2,314.1 1284.8,313.7 1290.3,313.3 1295.9,312.9 1301.5,312.5 1307.1,312.2 1312.7,311.8 1318.2,311.4 1323.8,311.1 1329.4,310.7 1335.0,310.3 1340.6,309.9 1346.2,309.5 1351.7,309.2 1357.3,308.8 1362.9,308.4 1368.5,308.0 1374.1,307.6 1379.6,307.2 1385.2,306.9 1390.8,306.5 1396.4,306.1 1402.0,305.8 1407.6,305.4 1413.1,305.0 1418.7,304.6 1424.3,304.2 1429.9,303.8 1435.5,303.3 1441.0,302.8 1446.6,302.3 1452.2,301.8 1457.8,301.2 1463.4,300.5 1468.9,299.9 1474.5,299.2 1480.1,298.5 1485.7,297.8 1491.3,297.1 1496.9,296.4 1502.4,295.7 1508.0,295.0 1513.6,294.3 1519.2,293.6 1524.8,292.9 1530.3,292.2 1535.9,291.5 1541.5,290.8 1547.1,290.0 1552.7,289.2 1558.2,288.3 1563.8,287.5 1569.4,286.6 1575.0,285.6 1580.6,284.7 1586.2,283.7 1591.7,282.8 1597.3,281.9 1602.9,281.0 1608.5,280.2 1614.1,279.3 1619.6,278.6 1625.2,277.8 1630.8,277.1 1636.4,276.4 1642.0,275.6 1647.6,274.9 1653.1,274.2 1658.7,273.4 1664.3,272.7 1669.9,271.9 1675.5,271.1 1681.0,270.2 1686.6,269.4 1692.2,268.6 1697.8,267.7 1703.4,266.8 1708.9,265.9 1714.5,265.0 1720.1,264.1 1725.7,263.2 1731.3,262.3 1736.9,261.4 1742.4,260.6 1748.0,259.8 1753.6,259.2 1759.2,258.6 1764.8,258.1 1770.3,257.6 1775.9,257.3 1781.5,256.9 1787.1,256.6 1792.7,256.3" fill="none" stroke="#c08a76" stroke-width="2" stroke-linejoin="round" stroke-linecap="round" opacity="1"/>
<polyline points="10.0,482.2 12.2,481.7 17.8,480.4 23.4,479.1 28.9,477.8 34.5,476.5 40.1,475.1 45.7,473.7 51.3,472.3 56.9,470.8 62.4,469.4 68.0,467.9 73.6,466.4 79.2,465.0 84.8,463.7 90.3,462.3 95.9,461.1 101.5,459.9 107.1,458.7 112.7,457.6 118.2,456.5 123.8,455.4 129.4,454.3 135.0,453.3 140.6,452.2 146.2,451.2 151.7,450.3 157.3,449.3 162.9,448.3 168.5,447.4 174.1,446.5 179.6,445.6 185.2,444.7 190.8,443.8 196.4,442.9 202.0,442.0 207.5,441.0 213.1,440.0 218.7,438.9 224.3,437.8 229.9,436.6 235.5,435.3 241.0,434.0 246.6,432.7 252.2,431.4 257.8,430.2 263.4,429.0 268.9,427.9 274.5,426.8 280.1,425.8 285.7,424.9 291.3,423.9 296.9,423.0 302.4,422.1 308.0,421.2 313.6,420.3 319.2,419.4 324.8,418.5 330.3,417.5 335.9,416.6 341.5,415.7 347.1,414.7 352.7,413.7 358.2,412.7 363.8,411.7 369.4,410.7 375.0,409.7 380.6,408.6 386.2,407.6 391.7,406.5 397.3,405.4 402.9,404.3 408.5,403.2 414.1,402.2 419.6,401.1 425.2,400.1 430.8,399.0 436.4,398.0 442.0,397.0 447.5,396.0 453.1,394.9 458.7,393.8 464.3,392.6 469.9,391.4 475.5,390.2 481.0,388.9 486.6,387.5 492.2,386.1 497.8,384.8 503.4,383.4 508.9,382.0 514.5,380.6 520.1,379.2 525.7,377.8 531.3,376.5 536.9,375.1 542.4,373.9 548.0,372.6 553.6,371.4 559.2,370.3 564.8,369.2 570.3,368.1 575.9,367.1 581.5,366.0 587.1,364.9 592.7,363.7 598.2,362.6 603.8,361.4 609.4,360.1 615.0,358.8 620.6,357.5 626.2,356.2 631.7,354.8 637.3,353.3 642.9,351.9 648.5,350.4 654.1,349.0 659.6,347.7 665.2,346.4 670.8,345.2 676.4,344.0 682.0,343.0 687.5,342.1 693.1,341.2 698.7,340.4 704.3,339.7 709.9,339.0 715.5,338.4 721.0,337.8 726.6,337.2 732.2,336.7 737.8,336.2 743.4,335.8 748.9,335.3 754.5,334.9 760.1,334.4 765.7,334.0 771.3,333.5 776.9,333.0 782.4,332.5 788.0,332.0 793.6,331.5 799.2,330.9 804.8,330.4 810.3,329.8 815.9,329.3 821.5,328.7 827.1,328.2 832.7,327.6 838.2,327.1 843.8,326.7 849.4,326.2 855.0,325.9 860.6,325.6 866.2,325.4 871.7,325.2 877.3,325.2 882.9,325.2 888.5,325.3 894.1,325.4 899.6,325.5 905.2,325.6 910.8,325.7 916.4,325.9 922.0,326.0 927.5,326.1 933.1,326.3 938.7,326.4 944.3,326.5 949.9,326.6 955.5,326.7 961.0,326.8 966.6,326.8 972.2,326.8 977.8,326.8 983.4,326.8 988.9,326.8 994.5,326.8 1000.1,326.7 1005.7,326.7 1011.3,326.6 1016.9,326.4 1022.4,326.3 1028.0,326.2 1033.6,326.0 1039.2,325.8 1044.8,325.6 1050.3,325.4 1055.9,325.2 1061.5,324.9 1067.1,324.6 1072.7,324.3 1078.2,324.0 1083.8,323.6 1089.4,323.2 1095.0,322.8 1100.6,322.3 1106.2,321.8 1111.7,321.3 1117.3,320.7 1122.9,320.2 1128.5,319.6 1134.1,319.0 1139.6,318.4 1145.2,317.8 1150.8,317.2 1156.4,316.5 1162.0,315.8 1167.5,315.1 1173.1,314.3 1178.7,313.5 1184.3,312.8 1189.9,312.0 1195.5,311.2 1201.0,310.4 1206.6,309.6 1212.2,308.9 1217.8,308.1 1223.4,307.4 1228.9,306.7 1234.5,305.9 1240.1,305.2 1245.7,304.5 1251.3,303.7 1256.9,302.9 1262.4,302.1 1268.0,301.3 1273.6,300.6 1279.2,299.8 1284.8,299.2 1290.3,298.6 1295.9,298.0 1301.5,297.6 1307.1,297.2 1312.7,296.8 1318.2,296.5 1323.8,296.2 1329.4,295.9 1335.0,295.6 1340.6,295.4 1346.2,295.1 1351.7,294.8 1357.3,294.5 1362.9,294.2 1368.5,293.9 1374.1,293.6 1379.6,293.3 1385.2,293.0 1390.8,292.6 1396.4,292.3 1402.0,291.9 1407.6,291.6 1413.1,291.2 1418.7,290.8 1424.3,290.4 1429.9,290.1 1435.5,289.7 1441.0,289.4 1446.6,289.2 1452.2,289.1 1457.8,289.0 1463.4,289.0 1468.9,289.0 1474.5,289.1 1480.1,289.2 1485.7,289.3 1491.3,289.3 1496.9,289.4 1502.4,289.4 1508.0,289.3 1513.6,289.1 1519.2,288.8 1524.8,288.4 1530.3,287.9 1535.9,287.4 1541.5,286.7 1547.1,286.0 1552.7,285.3 1558.2,284.6 1563.8,283.8 1569.4,283.0 1575.0,282.2 1580.6,281.4 1586.2,280.5 1591.7,279.7 1597.3,278.9 1602.9,278.0 1608.5,277.2 1614.1,276.4 1619.6,275.5 1625.2,274.7 1630.8,273.8 1636.4,273.0 1642.0,272.1 1647.6,271.2 1653.1,270.2 1658.7,269.2 1664.3,268.1 1669.9,266.9 1675.5,265.7 1681.0,264.4 1686.6,263.1 1692.2,261.7 1697.8,260.3 1703.4,258.8 1708.9,257.2 1714.5,255.7 1720.1,254.1 1725.7,252.5 1731.3,250.9 1736.9,249.4 1742.4,247.8 1748.0,246.4 1753.6,244.9 1759.2,243.5 1764.8,242.1 1770.3,240.7 1775.9,239.4 1781.5,238.1 1787.1,236.8 1792.7,235.6" fill="none" stroke="#ff9c9c" stroke-width="1.3" stroke-linejoin="round" stroke-linecap="round" opacity="1"/>
<polyline points="10.0,471.7 12.2,471.0 17.8,469.2 23.4,467.4 28.9,465.6 34.5,463.7 40.1,461.7 45.7,459.7 51.3,457.6 56.9,455.5 62.4,453.3 68.0,451.0 73.6,448.7 79.2,446.5 84.8,444.3 90.3,442.1 95.9,440.0 101.5,437.9 107.1,436.0 112.7,434.0 118.2,432.1 123.8,430.3 129.4,428.5 135.0,426.7 140.6,425.1 146.2,423.4 151.7,421.8 157.3,420.2 162.9,418.7 168.5,417.1 174.1,415.4 179.6,413.8 185.2,412.0 190.8,410.2 196.4,408.3 202.0,406.4 207.5,404.4 213.1,402.3 218.7,400.3 224.3,398.2 229.9,396.1 235.5,394.1 241.0,392.0 246.6,390.0 252.2,387.9 257.8,386.0 263.4,384.1 268.9,382.3 274.5,380.7 280.1,379.2 285.7,377.8 291.3,376.6 296.9,375.5 302.4,374.4 308.0,373.4 313.6,372.4 319.2,371.4 324.8,370.5 330.3,369.5 335.9,368.6 341.5,367.8 347.1,366.9 352.7,366.0 358.2,365.2 363.8,364.4 369.4,363.7 375.0,362.9 380.6,362.2 386.2,361.6 391.7,361.0 397.3,360.4 402.9,359.9 408.5,359.4 414.1,358.9 419.6,358.5 425.2,358.2 430.8,357.9 436.4,357.7 442.0,357.5 447.5,357.3 453.1,357.1 458.7,356.9 464.3,356.7 469.9,356.5 475.5,356.3 481.0,356.0 486.6,355.6 492.2,355.2 497.8,354.8 503.4,354.2 508.9,353.5 514.5,352.6 520.1,351.7 525.7,350.6 531.3,349.5 536.9,348.4 542.4,347.3 548.0,346.3 553.6,345.3 559.2,344.4 564.8,343.7 570.3,343.1 575.9,342.6 581.5,342.2 587.1,341.9 592.7,341.7 598.2,341.5 603.8,341.3 609.4,341.1 615.0,340.7 620.6,340.3 626.2,339.8 631.7,339.2 637.3,338.4 642.9,337.6 648.5,336.7 654.1,335.8 659.6,334.8 665.2,333.9 670.8,333.0 676.4,332.2 682.0,331.4 687.5,330.7 693.1,330.1 698.7,329.6 704.3,329.1 709.9,328.8 715.5,328.4 721.0,328.1 726.6,327.9 732.2,327.6 737.8,327.4 743.4,327.1 748.9,326.9 754.5,326.6 760.1,326.4 765.7,326.1 771.3,325.9 776.9,325.7 782.4,325.5 788.0,325.3 793.6,325.1 799.2,324.9 804.8,324.7 810.3,324.5 815.9,324.3 821.5,324.0 827.1,323.6 832.7,323.2 838.2,322.8 843.8,322.4 849.4,322.0 855.0,321.5 860.6,321.1 866.2,320.6 871.7,320.2 877.3,319.8 882.9,319.5 888.5,319.1 894.1,318.7 899.6,318.3 905.2,318.0 910.8,317.6 916.4,317.2 922.0,316.8 927.5,316.4 933.1,316.1 938.7,315.7 944.3,315.3 949.9,315.0 955.5,314.7 961.0,314.4 966.6,314.1 972.2,313.8 977.8,313.6 983.4,313.3 988.9,313.0 994.5,312.7 1000.1,312.4 1005.7,312.1 1011.3,311.8 1016.9,311.4 1022.4,311.0 1028.0,310.6 1033.6,310.1 1039.2,309.7 1044.8,309.2 1050.3,308.7 1055.9,308.2 1061.5,307.7 1067.1,307.1 1072.7,306.6 1078.2,306.2 1083.8,305.7 1089.4,305.3 1095.0,305.0 1100.6,304.7 1106.2,304.4 1111.7,304.2 1117.3,304.0 1122.9,303.7 1128.5,303.5 1134.1,303.3 1139.6,303.1 1145.2,302.9 1150.8,302.7 1156.4,302.5 1162.0,302.4 1167.5,302.2 1173.1,302.1 1178.7,302.0 1184.3,301.9 1189.9,301.8 1195.5,301.7 1201.0,301.7 1206.6,301.7 1212.2,301.6 1217.8,301.6 1223.4,301.5 1228.9,301.5 1234.5,301.4 1240.1,301.3 1245.7,301.1 1251.3,300.8 1256.9,300.5 1262.4,300.2 1268.0,299.8 1273.6,299.4 1279.2,299.0 1284.8,298.6 1290.3,298.2 1295.9,297.9 1301.5,297.6 1307.1,297.3 1312.7,297.1 1318.2,296.8 1323.8,296.6 1329.4,296.3 1335.0,295.9 1340.6,295.6 1346.2,295.2 1351.7,294.7 1357.3,294.2 1362.9,293.8 1368.5,293.3 1374.1,292.7 1379.6,292.2 1385.2,291.7 1390.8,291.1 1396.4,290.6 1402.0,290.0 1407.6,289.5 1413.1,288.9 1418.7,288.3 1424.3,287.8 1429.9,287.2 1435.5,286.6 1441.0,285.9 1446.6,285.2 1452.2,284.5 1457.8,283.7 1463.4,282.9 1468.9,282.1 1474.5,281.2 1480.1,280.3 1485.7,279.4 1491.3,278.5 1496.9,277.6 1502.4,276.6 1508.0,275.5 1513.6,274.4 1519.2,273.2 1524.8,271.9 1530.3,270.5 1535.9,269.1 1541.5,267.7 1547.1,266.2 1552.7,264.7 1558.2,263.3 1563.8,261.8 1569.4,260.3 1575.0,258.9 1580.6,257.5 1586.2,256.2 1591.7,254.9 1597.3,253.7 1602.9,252.5 1608.5,251.5 1614.1,250.4 1619.6,249.4 1625.2,248.4 1630.8,247.4 1636.4,246.4 1642.0,245.3 1647.6,244.2 1653.1,243.1 1658.7,242.0 1664.3,240.8 1669.9,239.6 1675.5,238.3 1681.0,237.0 1686.6,235.6 1692.2,234.2 1697.8,232.7 1703.4,231.2 1708.9,229.7 1714.5,228.1 1720.1,226.5 1725.7,224.9 1731.3,223.4 1736.9,222.0 1742.4,220.6 1748.0,219.3 1753.6,218.0 1759.2,216.8 1764.8,215.6 1770.3,214.4 1775.9,213.2 1781.5,212.0 1787.1,210.9 1792.7,209.7" fill="none" stroke="#62a862" stroke-width="1.2" stroke-linejoin="round" stroke-linecap="round" opacity="1"/>
<polyline points="10.0,424.2 12.2,423.1 17.8,420.4 23.4,417.5 28.9,414.4 34.5,411.4 40.1,408.3 45.7,405.1 51.3,401.7 56.9,398.4 62.4,395.0 68.0,391.7 73.6,388.3 79.2,385.0 84.8,381.7 90.3,378.7 95.9,375.9 101.5,373.1 107.1,370.3 112.7,368.2 118.2,366.4 123.8,364.6 129.4,362.9 135.0,361.7 140.6,360.7 146.2,359.7 151.7,358.7 157.3,358.0 162.9,357.5 168.5,356.9 174.1,356.4 179.6,356.1 185.2,355.8 190.8,355.5 196.4,355.2 202.0,353.6 207.5,351.9 213.1,350.2 218.7,348.5 224.3,346.0 229.9,343.5 235.5,341.0 241.0,338.6 246.6,336.9 252.2,335.2 257.8,333.5 263.4,332.1 268.9,331.4 274.5,330.8 280.1,330.1 285.7,329.9 291.3,330.2 296.9,331.1 302.4,333.0 308.0,335.1 313.6,336.9 319.2,337.8 324.8,338.6 330.3,339.6 335.9,341.9 341.5,344.5 347.1,347.3 352.7,349.2 358.2,350.7 363.8,352.1 369.4,353.0 375.0,354.2 380.6,355.8 386.2,355.8 391.7,356.0 397.3,355.9 402.9,355.9 408.5,355.9 414.1,355.8 419.6,355.5 425.2,355.3 430.8,355.7 436.4,356.3 442.0,356.7 447.5,357.2 453.1,357.7 458.7,357.9 464.3,358.0 469.9,358.7 475.5,359.2 481.0,359.8 486.6,360.7 492.2,361.0 497.8,361.3 503.4,361.3 508.9,361.3 514.5,361.7 520.1,362.0 525.7,361.8 531.3,362.0 536.9,361.6 542.4,360.8 548.0,360.1 553.6,358.9 559.2,357.9 564.8,356.7 570.3,355.2 575.9,353.1 581.5,350.8 587.1,348.8 592.7,347.6 598.2,346.8 603.8,345.5 609.4,343.9 615.0,341.9 620.6,339.6 626.2,337.0 631.7,334.8 637.3,331.6 642.9,328.7 648.5,325.0 654.1,321.8 659.6,319.1 665.2,316.7 670.8,314.5 676.4,311.9 682.0,309.8 687.5,307.9 693.1,306.6 698.7,305.2 704.3,303.9 709.9,302.8 715.5,301.5 721.0,300.2 726.6,299.1 732.2,297.7 737.8,296.7 743.4,295.9 748.9,294.7 754.5,293.2 760.1,291.8 765.7,290.7 771.3,290.2 776.9,289.8 782.4,290.1 788.0,290.3 793.6,290.2 799.2,290.5 804.8,290.8 810.3,290.9 815.9,291.4 821.5,291.7 827.1,292.1 832.7,292.4 838.2,292.1 843.8,291.8 849.4,291.8 855.0,292.4 860.6,293.2 866.2,293.8 871.7,293.9 877.3,294.5 882.9,295.6 888.5,296.7 894.1,297.4 899.6,298.4 905.2,299.3 910.8,300.5 916.4,303.0 922.0,305.5 927.5,308.2 933.1,310.3 938.7,312.3 944.3,314.2 949.9,316.0 955.5,318.2 961.0,320.0 966.6,321.6 972.2,322.9 977.8,323.8 983.4,324.8 988.9,325.2 994.5,326.0 1000.1,326.2 1005.7,326.1 1011.3,326.3 1016.9,326.1 1022.4,326.3 1028.0,326.1 1033.6,326.3 1039.2,326.0 1044.8,325.8 1050.3,325.4 1055.9,325.0 1061.5,323.9 1067.1,323.0 1072.7,322.1 1078.2,321.2 1083.8,320.6 1089.4,319.7 1095.0,319.0 1100.6,318.6 1106.2,317.8 1111.7,316.8 1117.3,316.4 1122.9,315.8 1128.5,315.5 1134.1,314.8 1139.6,314.2 1145.2,313.5 1150.8,313.2 1156.4,312.3 1162.0,310.9 1167.5,309.6 1173.1,308.0 1178.7,306.5 1184.3,305.1 1189.9,303.7 1195.5,301.6 1201.0,299.4 1206.6,297.1 1212.2,295.0 1217.8,293.0 1223.4,290.9 1228.9,289.0 1234.5,287.3 1240.1,285.9 1245.7,284.1 1251.3,282.1 1256.9,280.5 1262.4,278.6 1268.0,276.6 1273.6,274.8 1279.2,273.3 1284.8,271.6 1290.3,270.8 1295.9,271.4 1301.5,271.4 1307.1,271.7 1312.7,271.6 1318.2,271.9 1323.8,271.4 1329.4,271.0 1335.0,270.9 1340.6,270.6 1346.2,270.4 1351.7,269.9 1357.3,269.7 1362.9,268.7 1368.5,268.0 1374.1,267.7 1379.6,267.1 1385.2,267.1 1390.8,267.2 1396.4,267.4 1402.0,267.9 1407.6,267.9 1413.1,267.4 1418.7,267.0 1424.3,266.7 1429.9,265.9 1435.5,265.3 1441.0,264.7 1446.6,264.6 1452.2,264.6 1457.8,264.7 1463.4,264.8 1468.9,264.3 1474.5,264.0 1480.1,264.1 1485.7,264.3 1491.3,264.5 1496.9,264.8 1502.4,265.4 1508.0,265.6 1513.6,265.9 1519.2,265.0 1524.8,264.3 1530.3,263.7 1535.9,262.4 1541.5,261.8 1547.1,260.4 1552.7,259.1 1558.2,257.8 1563.8,256.6 1569.4,254.3 1575.0,250.7 1580.6,247.0 1586.2,243.5 1591.7,240.7 1597.3,238.2 1602.9,236.2 1608.5,234.3 1614.1,232.2 1619.6,230.3 1625.2,228.5 1630.8,226.7 1636.4,224.9 1642.0,223.4 1647.6,221.7 1653.1,219.7 1658.7,217.8 1664.3,215.8 1669.9,213.9 1675.5,211.5 1681.0,208.2 1686.6,205.2 1692.2,202.9 1697.8,200.1 1703.4,197.2 1708.9,194.3 1714.5,190.9 1720.1,187.6 1725.7,183.9 1731.3,180.6 1736.9,177.5 1742.4,174.4 1748.0,171.8 1753.6,169.8 1759.2,167.9 1764.8,166.0 1770.3,163.9 1775.9,161.5 1781.5,159.0 1787.1,156.4 1792.7,153.6" fill="none" stroke="#6cdede" stroke-width="1.15" stroke-linejoin="round" stroke-linecap="round" opacity="1"/>
<polyline points="10.0,394.8 12.2,394.2 17.8,392.8 23.4,389.2 28.9,385.7 34.5,382.6 40.1,380.2 45.7,377.7 51.3,374.9 56.9,371.3 62.4,367.7 68.0,364.0 73.6,360.1 79.2,356.2 84.8,352.2 90.3,348.7 95.9,345.3 101.5,342.0 107.1,338.7 112.7,334.0 118.2,332.7 123.8,331.3 129.4,329.9 135.0,328.5 140.6,327.1 146.2,325.6 151.7,325.5 157.3,324.4 162.9,326.5 168.5,328.7 174.1,331.9 179.6,334.0 185.2,335.1 190.8,336.3 196.4,338.6 202.0,341.3 207.5,342.9 213.1,343.7 218.7,342.8 224.3,342.8 229.9,341.5 235.5,340.7 241.0,340.6 246.6,338.9 252.2,337.7 257.8,335.5 263.4,334.9 268.9,333.1 274.5,333.5 280.1,333.8 285.7,334.2 291.3,335.0 296.9,337.8 302.4,339.6 308.0,341.4 313.6,341.9 319.2,341.6 324.8,342.1 330.3,342.8 335.9,345.1 341.5,347.7 347.1,351.7 352.7,354.6 358.2,358.5 363.8,361.4 369.4,364.4 375.0,367.8 380.6,371.0 386.2,372.7 391.7,374.3 397.3,376.3 402.9,377.0 408.5,378.7 414.1,378.1 419.6,377.3 425.2,376.5 430.8,376.4 436.4,374.8 442.0,373.7 447.5,373.1 453.1,373.4 458.7,374.2 464.3,373.9 469.9,374.5 475.5,373.4 481.0,372.0 486.6,369.8 492.2,367.4 497.8,364.0 503.4,361.1 508.9,358.1 514.5,355.5 520.1,353.1 525.7,350.9 531.3,349.7 536.9,346.9 542.4,344.6 548.0,341.5 553.6,339.7 559.2,338.4 564.8,336.9 570.3,334.0 575.9,331.4 581.5,327.9 587.1,324.5 592.7,321.8 598.2,319.5 603.8,317.1 609.4,313.3 615.0,310.4 620.6,307.2 626.2,304.1 631.7,302.3 637.3,299.2 642.9,296.2 648.5,291.9 654.1,288.1 659.6,285.0 665.2,282.4 670.8,279.3 676.4,276.9 682.0,274.9 687.5,274.3 693.1,273.4 698.7,272.1 704.3,270.8 709.9,271.5 715.5,271.6 721.0,272.5 726.6,273.6 732.2,273.7 737.8,273.8 743.4,274.6 748.9,276.0 754.5,275.9 760.1,276.3 765.7,277.2 771.3,278.1 776.9,280.5 782.4,284.1 788.0,288.6 793.6,292.4 799.2,296.0 804.8,299.1 810.3,302.4 815.9,306.0 821.5,308.6 827.1,309.9 832.7,311.4 838.2,312.1 843.8,312.8 849.4,312.0 855.0,313.1 860.6,313.9 866.2,314.0 871.7,314.2 877.3,315.1 882.9,316.7 888.5,317.3 894.1,318.9 899.6,320.5 905.2,321.5 910.8,322.9 916.4,325.4 922.0,326.9 927.5,327.8 933.1,328.3 938.7,328.6 944.3,329.2 949.9,329.5 955.5,330.5 961.0,331.4 966.6,333.3 972.2,334.3 977.8,335.5 983.4,336.7 988.9,338.4 994.5,338.9 1000.1,338.5 1005.7,338.3 1011.3,338.4 1016.9,337.1 1022.4,335.8 1028.0,334.9 1033.6,333.7 1039.2,331.6 1044.8,330.1 1050.3,327.8 1055.9,324.6 1061.5,321.0 1067.1,318.3 1072.7,316.0 1078.2,313.8 1083.8,312.0 1089.4,309.8 1095.0,307.6 1100.6,305.8 1106.2,302.4 1111.7,299.3 1117.3,297.2 1122.9,295.0 1128.5,292.7 1134.1,290.8 1139.6,289.8 1145.2,288.8 1150.8,287.9 1156.4,287.4 1162.0,285.9 1167.5,284.2 1173.1,282.4 1178.7,281.4 1184.3,280.1 1189.9,279.6 1195.5,278.7 1201.0,277.7 1206.6,276.0 1212.2,274.0 1217.8,272.1 1223.4,269.8 1228.9,268.2 1234.5,266.9 1240.1,266.0 1245.7,265.7 1251.3,264.8 1256.9,263.7 1262.4,262.2 1268.0,260.6 1273.6,258.8 1279.2,256.7 1284.8,254.4 1290.3,253.7 1295.9,255.3 1301.5,257.0 1307.1,259.2 1312.7,260.9 1318.2,262.3 1323.8,262.6 1329.4,262.3 1335.0,263.0 1340.6,263.5 1346.2,264.8 1351.7,265.9 1357.3,267.2 1362.9,267.7 1368.5,267.9 1374.1,268.4 1379.6,268.3 1385.2,268.4 1390.8,269.6 1396.4,271.0 1402.0,273.5 1407.6,275.2 1413.1,276.0 1418.7,277.4 1424.3,279.0 1429.9,278.1 1435.5,275.3 1441.0,272.4 1446.6,269.9 1452.2,268.2 1457.8,267.1 1463.4,267.0 1468.9,266.2 1474.5,265.1 1480.1,264.8 1485.7,263.8 1491.3,263.2 1496.9,262.4 1502.4,263.1 1508.0,263.3 1513.6,263.5 1519.2,261.8 1524.8,260.1 1530.3,257.7 1535.9,253.8 1541.5,250.0 1547.1,245.6 1552.7,242.2 1558.2,238.3 1563.8,234.2 1569.4,230.4 1575.0,226.2 1580.6,221.7 1586.2,217.0 1591.7,213.1 1597.3,209.2 1602.9,205.4 1608.5,202.4 1614.1,199.4 1619.6,195.7 1625.2,193.2 1630.8,190.3 1636.4,187.4 1642.0,183.6 1647.6,180.0 1653.1,175.8 1658.7,173.8 1664.3,171.5 1669.9,170.1 1675.5,169.2 1681.0,166.3 1686.6,164.9 1692.2,163.7 1697.8,161.9 1703.4,160.1 1708.9,158.2 1714.5,155.6 1720.1,153.5 1725.7,150.8 1731.3,148.0 1736.9,145.8 1742.4,143.6 1748.0,141.2 1753.6,140.3 1759.2,140.2 1764.8,139.0 1770.3,137.7 1775.9,135.8 1781.5,134.5 1787.1,133.0 1792.7,131.6" fill="none" stroke="#b97888" stroke-width="1.4" stroke-linejoin="round" stroke-linecap="round" opacity="1"/>
<polyline points="10.0,390.8 12.2,387.0 17.8,377.3 23.4,366.8 28.9,353.6 34.5,340.9 40.1,334.9 45.7,329.7 51.3,329.7 56.9,314.6 62.4,307.7 68.0,300.9 73.6,301.8 79.2,306.0 84.8,309.4 90.3,313.2 95.9,313.4 101.5,310.6 107.1,317.9 112.7,324.6 118.2,332.3 123.8,336.6 129.4,340.6 135.0,344.1 140.6,343.9 146.2,345.2 151.7,349.7 157.3,345.2 162.9,346.1 168.5,345.0 174.1,347.5 179.6,348.1 185.2,349.5 190.8,350.6 196.4,350.8 202.0,351.5 207.5,352.2 213.1,349.6 218.7,345.1 224.3,339.7 229.9,334.0 235.5,329.0 241.0,322.5 246.6,318.8 252.2,314.5 257.8,311.9 263.4,312.2 268.9,313.6 274.5,318.1 280.1,322.5 285.7,327.0 291.3,334.1 296.9,342.2 302.4,351.4 308.0,361.5 313.6,366.9 319.2,371.8 324.8,373.7 330.3,375.6 335.9,381.2 341.5,386.9 347.1,390.8 352.7,391.5 358.2,392.7 363.8,393.8 369.4,397.3 375.0,400.2 380.6,400.7 386.2,395.5 391.7,388.4 397.3,380.2 402.9,374.2 408.5,369.7 414.1,364.3 419.6,358.2 425.2,351.2 430.8,349.1 436.4,347.9 442.0,349.8 447.5,352.5 453.1,357.2 458.7,359.1 464.3,362.0 469.9,367.9 475.5,372.6 481.0,374.7 486.6,376.8 492.2,373.8 497.8,367.6 503.4,359.7 508.9,352.8 514.5,349.3 520.1,341.1 525.7,333.1 531.3,326.5 536.9,316.6 542.4,311.1 548.0,307.0 553.6,304.7 559.2,303.4 564.8,299.5 570.3,296.3 575.9,293.6 581.5,289.3 587.1,290.4 592.7,293.7 598.2,298.2 603.8,299.3 609.4,298.2 615.0,299.0 620.6,300.2 626.2,301.2 631.7,302.7 637.3,297.2 642.9,288.5 648.5,276.0 654.1,268.7 659.6,262.5 665.2,255.3 670.8,248.9 676.4,240.9 682.0,234.9 687.5,237.8 693.1,241.5 698.7,248.3 704.3,251.5 709.9,258.8 715.5,263.4 721.0,270.5 726.6,281.4 732.2,290.3 737.8,297.0 743.4,302.6 748.9,309.1 754.5,313.3 760.1,313.3 765.7,316.8 771.3,318.2 776.9,316.3 782.4,317.4 788.0,317.1 793.6,318.2 799.2,318.0 804.8,319.7 810.3,321.6 815.9,320.9 821.5,319.5 827.1,319.3 832.7,317.4 838.2,313.4 843.8,308.2 849.4,303.4 855.0,302.4 860.6,302.3 866.2,303.7 871.7,305.9 877.3,311.6 882.9,317.2 888.5,323.8 894.1,330.3 899.6,336.7 905.2,340.0 910.8,343.3 916.4,347.9 922.0,352.8 927.5,352.2 933.1,350.4 938.7,349.3 944.3,348.2 949.9,346.8 955.5,345.9 961.0,342.9 966.6,341.2 972.2,338.1 977.8,334.9 983.4,331.7 988.9,330.6 994.5,329.2 1000.1,327.3 1005.7,325.3 1011.3,325.3 1016.9,322.3 1022.4,321.4 1028.0,322.1 1033.6,321.8 1039.2,318.0 1044.8,315.6 1050.3,313.6 1055.9,309.9 1061.5,304.4 1067.1,299.9 1072.7,295.3 1078.2,290.7 1083.8,288.0 1089.4,286.3 1095.0,283.3 1100.6,281.6 1106.2,279.6 1111.7,278.0 1117.3,276.4 1122.9,273.2 1128.5,271.8 1134.1,270.3 1139.6,271.7 1145.2,273.1 1150.8,275.8 1156.4,280.6 1162.0,284.0 1167.5,286.0 1173.1,286.9 1178.7,286.7 1184.3,286.1 1189.9,285.1 1195.5,281.9 1201.0,276.1 1206.6,268.3 1212.2,262.3 1217.8,257.1 1223.4,253.1 1228.9,249.6 1234.5,246.7 1240.1,243.9 1245.7,243.5 1251.3,242.0 1256.9,242.3 1262.4,240.4 1268.0,239.6 1273.6,239.5 1279.2,239.7 1284.8,238.3 1290.3,241.7 1295.9,251.8 1301.5,262.3 1307.1,273.6 1312.7,283.3 1318.2,291.6 1323.8,296.8 1329.4,300.8 1335.0,305.9 1340.6,303.3 1346.2,294.5 1351.7,287.1 1357.3,279.2 1362.9,271.9 1368.5,265.1 1374.1,262.7 1379.6,260.4 1385.2,258.5 1390.8,259.0 1396.4,259.6 1402.0,261.7 1407.6,261.8 1413.1,262.8 1418.7,266.0 1424.3,267.7 1429.9,269.0 1435.5,270.8 1441.0,270.0 1446.6,270.5 1452.2,268.5 1457.8,269.1 1463.4,271.7 1468.9,269.9 1474.5,267.3 1480.1,266.2 1485.7,262.8 1491.3,261.5 1496.9,258.4 1502.4,257.6 1508.0,254.5 1513.6,252.9 1519.2,248.0 1524.8,244.8 1530.3,239.3 1535.9,231.7 1541.5,225.0 1547.1,215.1 1552.7,204.7 1558.2,196.4 1563.8,186.4 1569.4,182.0 1575.0,176.6 1580.6,170.0 1586.2,168.3 1591.7,166.1 1597.3,168.1 1602.9,169.5 1608.5,170.4 1614.1,170.7 1619.6,169.8 1625.2,170.9 1630.8,174.3 1636.4,176.2 1642.0,175.7 1647.6,173.3 1653.1,170.9 1658.7,168.5 1664.3,167.3 1669.9,168.2 1675.5,165.1 1681.0,158.5 1686.6,152.6 1692.2,149.3 1697.8,146.2 1703.4,142.8 1708.9,138.5 1714.5,132.3 1720.1,123.7 1725.7,117.3 1731.3,115.3 1736.9,115.3 1742.4,113.9 1748.0,113.3 1753.6,116.2 1759.2,120.4 1764.8,125.8 1770.3,131.3 1775.9,135.1 1781.5,138.7 1787.1,138.1 1792.7,137.7" fill="none" stroke="#70dc70" stroke-width="1.2" stroke-linejoin="round" stroke-linecap="round" opacity="1"/>
<polyline points="10.0,379.0 12.2,373.8 17.8,360.6 23.4,340.5 28.9,319.1 34.5,304.5 40.1,297.0 45.7,306.3 51.3,315.6 56.9,317.4 62.4,308.6 68.0,296.4 73.6,291.2 79.2,299.9 84.8,308.5 90.3,324.7 95.9,332.2 101.5,325.9 107.1,336.6 112.7,334.2 118.2,339.2 123.8,349.6 129.4,350.9 135.0,352.3 140.6,350.7 146.2,351.7 151.7,346.5 157.3,339.1 162.9,339.3 168.5,338.7 174.1,344.5 179.6,357.2 185.2,360.0 190.8,363.1 196.4,359.3 202.0,354.2 207.5,345.1 213.1,337.2 218.7,326.0 224.3,317.8 229.9,316.2 235.5,313.6 241.0,312.1 246.6,312.2 252.2,310.3 257.8,306.5 263.4,314.0 268.9,314.4 274.5,326.0 280.1,340.1 285.7,347.1 291.3,358.1 296.9,366.5 302.4,375.4 308.0,384.1 313.6,388.0 319.2,381.0 324.8,376.2 330.3,371.7 335.9,379.1 341.5,392.1 347.1,404.9 352.7,411.2 358.2,410.0 363.8,403.6 369.4,395.7 375.0,395.9 380.6,389.7 386.2,382.9 391.7,372.1 397.3,359.9 402.9,351.5 408.5,351.9 414.1,349.4 419.6,346.2 425.2,344.1 430.8,343.3 436.4,346.1 442.0,353.1 447.5,362.8 453.1,369.6 458.7,377.0 464.3,376.9 469.9,380.8 475.5,378.9 481.0,378.4 486.6,379.4 492.2,366.4 497.8,351.5 503.4,336.0 508.9,322.9 514.5,321.9 520.1,321.1 525.7,318.9 531.3,319.3 536.9,305.9 542.4,298.9 548.0,292.9 553.6,286.9 559.2,293.2 564.8,295.9 570.3,297.0 575.9,294.1 581.5,287.4 587.1,285.4 592.7,293.0 598.2,303.0 603.8,309.5 609.4,310.8 615.0,308.0 620.6,301.5 626.2,298.4 631.7,297.5 637.3,281.1 642.9,266.9 648.5,246.3 654.1,233.0 659.6,232.8 665.2,233.2 670.8,240.5 676.4,235.8 682.0,235.4 687.5,241.8 693.1,250.2 698.7,263.1 704.3,270.3 709.9,280.0 715.5,282.5 721.0,290.2 726.6,303.2 732.2,306.3 737.8,317.3 743.4,322.5 748.9,325.5 754.5,322.2 760.1,316.7 765.7,314.4 771.3,310.7 776.9,309.8 782.4,315.4 788.0,318.1 793.6,322.4 799.2,329.3 804.8,327.3 810.3,326.7 815.9,320.7 821.5,314.0 827.1,309.0 832.7,306.1 838.2,301.1 843.8,297.0 849.4,293.5 855.0,293.5 860.6,301.8 866.2,310.6 871.7,319.5 877.3,329.8 882.9,339.7 888.5,346.2 894.1,351.9 899.6,349.9 905.2,344.7 910.8,345.9 916.4,350.4 922.0,355.7 927.5,357.4 933.1,355.5 938.7,349.2 944.3,341.6 949.9,337.7 955.5,334.6 961.0,331.5 966.6,334.5 972.2,336.1 977.8,332.6 983.4,330.3 988.9,325.4 994.5,321.7 1000.1,320.6 1005.7,320.2 1011.3,319.6 1016.9,318.8 1022.4,322.9 1028.0,325.4 1033.6,322.5 1039.2,315.7 1044.8,308.7 1050.3,301.4 1055.9,293.3 1061.5,289.1 1067.1,283.5 1072.7,281.8 1078.2,282.3 1083.8,285.5 1089.4,285.1 1095.0,281.7 1100.6,280.9 1106.2,274.6 1111.7,270.3 1117.3,267.9 1122.9,262.9 1128.5,264.6 1134.1,268.2 1139.6,274.6 1145.2,281.5 1150.8,290.0 1156.4,297.8 1162.0,298.0 1167.5,296.9 1173.1,287.7 1178.7,278.3 1184.3,272.9 1189.9,272.4 1195.5,270.5 1201.0,266.1 1206.6,257.8 1212.2,246.9 1217.8,241.0 1223.4,236.0 1228.9,236.2 1234.5,237.7 1240.1,242.7 1245.7,248.8 1251.3,249.0 1256.9,247.9 1262.4,239.0 1268.0,232.5 1273.6,230.4 1279.2,230.4 1284.8,232.9 1290.3,247.2 1295.9,276.5 1301.5,299.8 1307.1,327.2 1312.7,332.6 1318.2,322.0 1323.8,308.2 1329.4,291.7 1335.0,283.7 1340.6,273.5 1346.2,271.4 1351.7,269.0 1357.3,267.3 1362.9,262.1 1368.5,255.7 1374.1,253.4 1379.6,249.3 1385.2,253.5 1390.8,260.0 1396.4,264.3 1402.0,272.0 1407.6,274.9 1413.1,270.4 1418.7,270.0 1424.3,266.8 1429.9,265.5 1435.5,271.7 1441.0,268.9 1446.6,270.6 1452.2,270.8 1457.8,271.0 1463.4,274.3 1468.9,268.7 1474.5,264.0 1480.1,259.0 1485.7,251.6 1491.3,250.1 1496.9,250.7 1502.4,251.3 1508.0,252.4 1513.6,254.9 1519.2,245.3 1524.8,235.2 1530.3,224.7 1535.9,203.8 1541.5,198.3 1547.1,184.0 1552.7,173.5 1558.2,173.0 1563.8,168.0 1569.4,170.7 1575.0,172.1 1580.6,165.2 1586.2,163.1 1591.7,162.5 1597.3,164.8 1602.9,172.4 1608.5,177.8 1614.1,178.4 1619.6,174.5 1625.2,175.4 1630.8,174.0 1636.4,175.6 1642.0,175.8 1647.6,170.2 1653.1,164.7 1658.7,160.5 1664.3,159.5 1669.9,163.0 1675.5,162.2 1681.0,151.6 1686.6,142.5 1692.2,133.4 1697.8,127.6 1703.4,129.2 1708.9,128.8 1714.5,121.1 1720.1,112.4 1725.7,105.0 1731.3,99.2 1736.9,104.2 1742.4,111.4 1748.0,118.6 1753.6,131.4 1759.2,140.5 1764.8,147.8 1770.3,152.7 1775.9,147.9 1781.5,140.7 1787.1,132.4 1792.7,126.4" fill="none" stroke="#ff74ff" stroke-width="1.15" stroke-linejoin="round" stroke-linecap="round" opacity="1"/>
</g>
<g clip-path="url(#rsi)">
<polyline points="10.0,592.4 12.2,591.7 17.8,589.9 23.4,587.6 28.9,583.8 34.5,580.6 40.1,578.8 45.7,577.9 51.3,577.3 56.9,575.6 62.4,574.2 68.0,574.4 73.6,575.3 79.2,576.2 84.8,577.4 90.3,580.0 95.9,581.7 101.5,583.8 107.1,587.0 112.7,589.3 118.2,591.0 123.8,592.6 129.4,594.3 135.0,595.9 140.6,597.5 146.2,598.5 151.7,599.1 157.3,598.7 162.9,599.2 168.5,598.9 174.1,599.3 179.6,600.6 185.2,600.5 190.8,600.6 196.4,600.2 202.0,600.0 207.5,598.6 213.1,597.8 218.7,596.3 224.3,595.3 229.9,594.5 235.5,594.4 241.0,592.8 246.6,592.3 252.2,591.0 257.8,589.3 263.4,589.1 268.9,588.6 274.5,589.5 280.1,590.4 285.7,592.1 291.3,593.9 296.9,596.8 302.4,599.4 308.0,601.8 313.6,603.5 319.2,605.0 324.8,606.0 330.3,607.3 335.9,609.8 341.5,611.3 347.1,613.3 352.7,613.1 358.2,612.9 363.8,612.2 369.4,611.5 375.0,610.5 380.6,608.5 386.2,606.1 391.7,604.1 397.3,602.9 402.9,601.1 408.5,600.1 414.1,597.6 419.6,594.9 425.2,592.0 430.8,591.2 436.4,590.1 442.0,590.1 447.5,590.3 453.1,590.5 458.7,591.3 464.3,592.1 469.9,593.9 475.5,595.2 481.0,596.6 486.6,596.9 492.2,596.9 497.8,596.5 503.4,596.1 508.9,594.8 514.5,594.6 520.1,593.2 525.7,591.4 531.3,589.7 536.9,587.6 542.4,586.3 548.0,584.1 553.6,582.9 559.2,582.2 564.8,581.6 570.3,581.6 575.9,581.9 581.5,582.2 587.1,583.0 592.7,584.1 598.2,585.8 603.8,587.0 609.4,587.4 615.0,589.0 620.6,590.0 626.2,590.9 631.7,591.3 637.3,589.9 642.9,588.8 648.5,587.5 654.1,587.5 659.6,587.7 665.2,587.3 670.8,585.9 676.4,583.8 682.0,583.2 687.5,583.8 693.1,584.2 698.7,584.9 704.3,585.6 709.9,587.3 715.5,589.6 721.0,592.3 726.6,595.7 732.2,597.9 737.8,600.4 743.4,602.5 748.9,604.9 754.5,606.7 760.1,607.7 765.7,608.0 771.3,608.2 776.9,607.8 782.4,608.5 788.0,608.0 793.6,608.6 799.2,608.4 804.8,607.6 810.3,606.9 815.9,605.3 821.5,603.6 827.1,601.7 832.7,601.4 838.2,600.2 843.8,598.7 849.4,597.1 855.0,597.4 860.6,597.2 866.2,597.1 871.7,596.9 877.3,597.8 882.9,599.3 888.5,599.9 894.1,601.0 899.6,602.4 905.2,603.6 910.8,604.7 916.4,607.1 922.0,609.6 927.5,610.9 933.1,610.9 938.7,610.1 944.3,609.2 949.9,608.0 955.5,606.0 961.0,603.4 966.6,602.9 972.2,602.0 977.8,600.3 983.4,598.7 988.9,597.3 994.5,595.4 1000.1,593.0 1005.7,591.8 1011.3,591.4 1016.9,591.1 1022.4,591.5 1028.0,591.8 1033.6,591.5 1039.2,590.9 1044.8,589.4 1050.3,588.4 1055.9,587.6 1061.5,586.9 1067.1,585.7 1072.7,585.4 1078.2,585.2 1083.8,585.4 1089.4,584.4 1095.0,583.6 1100.6,582.6 1106.2,581.2 1111.7,580.3 1117.3,580.6 1122.9,580.0 1128.5,580.5 1134.1,581.7 1139.6,583.9 1145.2,585.7 1150.8,587.6 1156.4,589.8 1162.0,590.7 1167.5,591.6 1173.1,592.0 1178.7,592.0 1184.3,592.8 1189.9,594.3 1195.5,594.6 1201.0,594.8 1206.6,593.8 1212.2,592.5 1217.8,590.4 1223.4,588.2 1228.9,585.9 1234.5,583.9 1240.1,583.7 1245.7,583.8 1251.3,583.8 1256.9,583.8 1262.4,583.0 1268.0,582.0 1273.6,582.1 1279.2,583.0 1284.8,583.9 1290.3,586.8 1295.9,590.7 1301.5,594.1 1307.1,597.2 1312.7,598.7 1318.2,599.3 1323.8,599.3 1329.4,600.0 1335.0,600.8 1340.6,601.8 1346.2,602.4 1351.7,602.9 1357.3,603.0 1362.9,602.7 1368.5,600.3 1374.1,597.6 1379.6,595.4 1385.2,593.4 1390.8,592.8 1396.4,592.5 1402.0,593.4 1407.6,593.7 1413.1,593.2 1418.7,593.8 1424.3,594.3 1429.9,594.6 1435.5,595.1 1441.0,595.9 1446.6,597.3 1452.2,597.6 1457.8,598.4 1463.4,598.9 1468.9,598.2 1474.5,597.0 1480.1,595.9 1485.7,595.0 1491.3,595.1 1496.9,594.4 1502.4,594.2 1508.0,593.8 1513.6,593.5 1519.2,592.3 1524.8,590.8 1530.3,589.4 1535.9,587.2 1541.5,585.6 1547.1,584.3 1552.7,583.4 1558.2,582.5 1563.8,581.9 1569.4,581.2 1575.0,580.4 1580.6,578.6 1586.2,578.0 1591.7,577.2 1597.3,578.3 1602.9,579.1 1608.5,580.4 1614.1,581.8 1619.6,582.3 1625.2,584.1 1630.8,585.6 1636.4,586.7 1642.0,587.4 1647.6,587.7 1653.1,587.9 1658.7,589.0 1664.3,589.5 1669.9,590.2 1675.5,589.6 1681.0,588.2 1686.6,586.8 1692.2,586.5 1697.8,586.2 1703.4,585.1 1708.9,584.0 1714.5,582.3 1720.1,581.0 1725.7,580.1 1731.3,579.5 1736.9,580.0 1742.4,580.5 1748.0,580.3 1753.6,582.1 1759.2,585.1 1764.8,587.3 1770.3,588.6 1775.9,589.4 1781.5,590.5 1787.1,591.1 1792.7,592.3" fill="none" stroke="#3d8b6c" stroke-width="2.2" stroke-linejoin="round" stroke-linecap="round" opacity="1"/>
<polyline points="10.0,574.8 12.2,575.2 17.8,576.2 23.4,567.5 28.9,566.5 34.5,565.9 40.1,578.3 45.7,585.5 51.3,584.5 56.9,577.8 62.4,576.2 68.0,576.7 73.6,583.9 79.2,591.1 84.8,589.1 90.3,597.8 95.9,594.2 101.5,588.1 107.1,599.9 112.7,596.8 118.2,599.4 123.8,597.3 129.4,600.4 135.0,597.3 140.6,597.3 146.2,597.8 151.7,596.3 157.3,590.7 162.9,598.1 168.5,597.5 174.1,601.7 179.6,602.4 185.2,600.2 190.8,599.6 196.4,597.5 202.0,597.0 207.5,590.5 213.1,591.2 218.7,586.2 224.3,589.8 229.9,590.2 235.5,589.8 241.0,585.4 246.6,591.8 252.2,589.9 257.8,587.4 263.4,596.9 268.9,593.8 274.5,603.9 280.1,604.2 285.7,604.2 291.3,605.6 296.9,611.9 302.4,612.6 308.0,612.3 313.6,606.6 319.2,600.7 324.8,604.1 330.3,604.3 335.9,612.6 341.5,613.9 347.1,616.1 352.7,606.3 358.2,607.3 363.8,602.1 369.4,603.4 375.0,605.3 380.6,597.8 386.2,592.8 391.7,589.6 397.3,590.2 402.9,588.4 408.5,594.9 414.1,588.4 419.6,588.1 425.2,587.5 430.8,596.0 436.4,593.2 442.0,598.5 447.5,601.1 453.1,604.5 458.7,602.0 464.3,597.1 469.9,604.4 475.5,600.5 481.0,600.0 486.6,597.3 492.2,588.2 497.8,583.7 503.4,582.9 508.9,583.4 514.5,590.3 520.1,585.5 525.7,583.3 531.3,587.7 536.9,579.6 542.4,582.2 548.0,581.1 553.6,585.5 559.2,589.6 564.8,587.8 570.3,584.9 575.9,583.8 581.5,582.8 587.1,587.9 592.7,597.4 598.2,599.0 603.8,593.3 609.4,590.7 615.0,594.4 620.6,591.6 626.2,590.2 631.7,590.2 637.3,577.6 642.9,577.6 648.5,572.5 654.1,583.1 659.6,583.4 665.2,584.0 670.8,583.5 676.4,579.3 682.0,586.2 687.5,595.4 693.1,597.1 698.7,596.7 704.3,595.3 709.9,605.9 715.5,599.2 721.0,603.8 726.6,607.4 732.2,607.1 737.8,609.2 743.4,607.8 748.9,609.4 754.5,600.7 760.1,600.9 765.7,603.3 771.3,603.7 776.9,598.4 782.4,606.1 788.0,605.0 793.6,607.1 799.2,605.5 804.8,602.1 810.3,602.9 815.9,597.5 821.5,595.2 827.1,594.3 832.7,598.7 838.2,590.6 843.8,589.9 849.4,589.9 855.0,599.9 860.6,603.5 866.2,603.3 871.7,603.5 877.3,612.8 882.9,615.1 888.5,608.6 894.1,607.3 899.6,607.2 905.2,605.3 910.8,609.2 916.4,612.5 922.0,613.3 927.5,603.8 933.1,602.8 938.7,599.5 944.3,598.3 949.9,596.6 955.5,597.0 961.0,593.6 966.6,603.6 972.2,599.1 977.8,591.1 983.4,590.2 988.9,595.6 994.5,593.7 1000.1,590.0 1005.7,590.4 1011.3,595.8 1016.9,593.4 1022.4,598.2 1028.0,595.7 1033.6,590.9 1039.2,583.3 1044.8,588.1 1050.3,585.9 1055.9,581.3 1061.5,579.9 1067.1,581.8 1072.7,587.0 1078.2,585.0 1083.8,588.1 1089.4,584.1 1095.0,583.1 1100.6,586.2 1106.2,580.2 1111.7,579.5 1117.3,582.5 1122.9,580.5 1128.5,586.9 1134.1,589.8 1139.6,598.1 1145.2,596.6 1150.8,603.8 1156.4,604.7 1162.0,597.2 1167.5,593.6 1173.1,587.4 1178.7,588.0 1184.3,588.7 1189.9,594.8 1195.5,586.3 1201.0,583.5 1206.6,579.2 1212.2,579.8 1217.8,579.5 1223.4,577.8 1228.9,581.8 1234.5,585.6 1240.1,592.9 1245.7,592.4 1251.3,585.3 1256.9,585.7 1262.4,579.6 1268.0,584.6 1273.6,584.8 1279.2,589.9 1284.8,586.8 1290.3,608.6 1295.9,620.4 1301.5,614.9 1307.1,616.4 1312.7,605.9 1318.2,604.8 1323.8,597.2 1329.4,596.6 1335.0,597.2 1340.6,593.7 1346.2,595.1 1351.7,594.2 1357.3,595.7 1362.9,588.1 1368.5,588.1 1374.1,592.8 1379.6,592.1 1385.2,594.3 1390.8,597.7 1396.4,599.3 1402.0,603.0 1407.6,597.9 1413.1,591.1 1418.7,598.3 1424.3,598.2 1429.9,596.2 1435.5,599.7 1441.0,594.5 1446.6,600.3 1452.2,596.3 1457.8,599.6 1463.4,598.8 1468.9,592.4 1474.5,590.0 1480.1,593.3 1485.7,589.6 1491.3,591.5 1496.9,591.9 1502.4,595.5 1508.0,592.0 1513.6,596.2 1519.2,582.0 1524.8,584.7 1530.3,582.0 1535.9,575.8 1541.5,581.1 1547.1,575.9 1552.7,577.4 1558.2,581.0 1563.8,580.1 1569.4,581.0 1575.0,580.7 1580.6,575.6 1586.2,581.8 1591.7,585.2 1597.3,589.1 1602.9,588.3 1608.5,590.7 1614.1,587.4 1619.6,585.1 1625.2,591.9 1630.8,590.9 1636.4,591.3 1642.0,586.9 1647.6,584.7 1653.1,584.0 1658.7,586.8 1664.3,586.8 1669.9,592.5 1675.5,585.4 1681.0,576.4 1686.6,579.4 1692.2,584.5 1697.8,582.8 1703.4,581.6 1708.9,581.0 1714.5,576.2 1720.1,573.9 1725.7,574.6 1731.3,577.1 1736.9,589.7 1742.4,589.2 1748.0,589.8 1753.6,600.9 1759.2,604.3 1764.8,600.7 1770.3,597.3 1775.9,592.7 1781.5,593.2 1787.1,588.4 1792.7,588.4" fill="none" stroke="#ff50ff" stroke-width="1.1" stroke-linejoin="round" stroke-linecap="round" opacity="1"/>
<polyline points="10.0,567.7 12.2,568.5 17.8,570.6 23.4,560.8 28.9,559.8 34.5,559.5 40.1,577.3 45.7,588.6 51.3,586.5 56.9,578.3 62.4,574.2 68.0,575.7 73.6,586.5 79.2,596.3 84.8,592.2 90.3,604.5 95.9,598.9 101.5,588.1 107.1,604.5 112.7,599.9 118.2,603.5 123.8,599.4 129.4,604.5 135.0,599.9 140.6,599.9 146.2,599.4 151.7,596.8 157.3,588.3 162.9,600.2 168.5,599.0 174.1,605.6 179.6,606.7 185.2,602.7 190.8,601.5 196.4,597.6 202.0,596.8 207.5,585.6 213.1,587.0 218.7,579.3 224.3,586.0 229.9,586.8 235.5,586.1 241.0,579.0 246.6,590.9 252.2,587.7 257.8,583.6 263.4,599.8 268.9,594.6 274.5,609.5 280.1,609.8 285.7,609.8 291.3,611.9 296.9,620.4 302.4,621.2 308.0,620.6 313.6,610.1 319.2,600.1 324.8,605.5 330.3,605.8 335.9,618.2 341.5,620.0 347.1,622.9 352.7,606.6 358.2,608.1 363.8,599.9 369.4,602.1 375.0,605.3 380.6,593.6 386.2,586.5 391.7,582.2 397.3,583.2 402.9,580.8 408.5,592.4 414.1,582.9 419.6,582.5 425.2,581.7 430.8,596.3 436.4,591.7 442.0,600.2 447.5,604.2 453.1,609.2 458.7,604.8 464.3,596.7 469.9,607.9 475.5,601.5 481.0,600.8 486.6,596.3 492.2,583.0 497.8,577.1 503.4,576.1 508.9,577.0 514.5,588.7 520.1,581.7 525.7,578.6 531.3,585.9 536.9,574.6 542.4,578.8 548.0,577.3 553.6,584.4 559.2,590.8 564.8,587.9 570.3,583.3 575.9,581.7 581.5,580.1 587.1,588.8 592.7,603.2 598.2,605.5 603.8,595.6 609.4,591.4 615.0,597.1 620.6,592.4 626.2,590.2 631.7,590.2 637.3,571.8 642.9,571.7 648.5,565.5 654.1,582.0 659.6,582.4 665.2,583.5 670.8,582.7 676.4,576.3 682.0,587.2 687.5,600.6 693.1,603.0 698.7,602.2 704.3,599.6 709.9,614.2 715.5,603.0 721.0,609.3 726.6,613.8 732.2,613.4 737.8,616.1 743.4,613.7 748.9,616.0 754.5,601.0 760.1,601.3 765.7,605.2 771.3,605.9 776.9,596.9 782.4,609.2 788.0,607.3 793.6,610.5 799.2,607.8 804.8,601.9 810.3,603.2 815.9,594.0 821.5,590.4 827.1,589.0 832.7,597.2 838.2,584.6 843.8,583.5 849.4,583.5 855.0,601.2 860.6,606.8 866.2,606.4 871.7,606.7 877.3,620.1 882.9,623.0 888.5,611.9 894.1,609.8 899.6,609.5 905.2,606.2 910.8,612.6 916.4,617.5 922.0,618.7 927.5,602.4 933.1,600.7 938.7,595.5 944.3,593.6 949.9,591.0 955.5,591.7 961.0,586.2 966.6,604.6 972.2,597.2 977.8,585.4 983.4,584.2 988.9,593.5 994.5,590.5 1000.1,585.1 1005.7,585.8 1011.3,595.2 1016.9,591.3 1022.4,599.3 1028.0,595.1 1033.6,587.6 1039.2,577.1 1044.8,584.9 1050.3,581.9 1055.9,575.6 1061.5,573.8 1067.1,577.1 1072.7,585.7 1078.2,582.7 1083.8,587.8 1089.4,581.5 1095.0,580.0 1100.6,585.3 1106.2,576.2 1111.7,575.2 1117.3,580.3 1122.9,577.3 1128.5,588.0 1134.1,592.7 1139.6,605.0 1145.2,602.2 1150.8,612.2 1156.4,613.3 1162.0,600.3 1167.5,594.4 1173.1,585.0 1178.7,585.9 1184.3,587.1 1189.9,597.0 1195.5,583.9 1201.0,579.9 1206.6,574.2 1212.2,575.2 1217.8,574.7 1223.4,572.4 1228.9,579.3 1234.5,585.7 1240.1,597.2 1245.7,596.3 1251.3,584.5 1256.9,585.2 1262.4,576.0 1268.0,584.0 1273.6,584.2 1279.2,592.5 1284.8,587.2 1290.3,616.4 1295.9,628.4 1301.5,620.7 1307.1,622.2 1312.7,607.5 1318.2,605.9 1323.8,595.4 1329.4,594.6 1335.0,595.6 1340.6,590.5 1346.2,592.7 1351.7,591.4 1357.3,594.0 1362.9,582.8 1368.5,582.8 1374.1,590.9 1379.6,589.8 1385.2,593.6 1390.8,599.2 1396.4,601.9 1402.0,607.8 1407.6,598.7 1413.1,587.9 1418.7,599.5 1424.3,599.3 1429.9,595.9 1435.5,601.7 1441.0,593.1 1446.6,602.3 1452.2,595.9 1457.8,601.1 1463.4,599.7 1468.9,589.6 1474.5,586.1 1480.1,591.7 1485.7,586.0 1491.3,589.3 1496.9,589.9 1502.4,596.2 1508.0,590.2 1513.6,597.5 1519.2,576.5 1524.8,580.8 1530.3,577.2 1535.9,569.4 1541.5,577.8 1547.1,571.2 1552.7,573.5 1558.2,579.1 1563.8,577.7 1569.4,579.3 1575.0,578.7 1580.6,571.3 1586.2,581.3 1591.7,586.7 1597.3,592.7 1602.9,591.4 1608.5,595.1 1614.1,589.1 1619.6,585.3 1625.2,596.2 1630.8,594.3 1636.4,594.9 1642.0,587.0 1647.6,583.3 1653.1,582.1 1658.7,587.2 1664.3,587.2 1669.9,597.2 1675.5,584.4 1681.0,571.4 1686.6,576.3 1692.2,584.3 1697.8,581.7 1703.4,579.8 1708.9,579.0 1714.5,571.9 1720.1,568.8 1725.7,569.9 1731.3,574.4 1736.9,594.5 1742.4,593.6 1748.0,594.5 1753.6,610.1 1759.2,614.3 1764.8,607.8 1770.3,601.8 1775.9,594.2 1781.5,595.0 1787.1,587.1 1792.7,587.3" fill="none" stroke="#6a6aff" stroke-width="1.1" stroke-linejoin="round" stroke-linecap="round" opacity="1"/>
</g>
<line x1="10" y1="554.5" x2="1841.0" y2="554.5" stroke="#4646ff" stroke-width="1.3" stroke-dasharray="4.9,5.857"/>
<line x1="10" y1="639.5" x2="1841.0" y2="639.5" stroke="#4646ff" stroke-width="1.3" stroke-dasharray="4.9,5.857"/>
<line x1="10" y1="565.5" x2="1841.0" y2="565.5" stroke="#ff1cff" stroke-width="1.3" stroke-dasharray="4.9,5.857"/>
<line x1="10" y1="628.5" x2="1841.0" y2="628.5" stroke="#ff1cff" stroke-width="1.3" stroke-dasharray="4.9,5.857"/>
<g clip-path="url(#st)">
<polyline points="10.0,671.0 12.2,669.5 17.8,665.8 23.4,663.7 28.9,663.2 34.5,663.7 40.1,668.7 45.7,676.3 51.3,686.3 56.9,693.5 62.4,692.6 68.0,683.8 73.6,674.6 79.2,676.3 84.8,684.7 90.3,695.6 95.9,700.6 101.5,700.2 107.1,696.0 112.7,694.3 118.2,698.5 123.8,701.5 129.4,704.8 135.0,702.7 140.6,697.7 146.2,690.6 151.7,683.9 157.3,676.0 162.9,672.6 168.5,675.4 174.1,687.0 179.6,698.3 185.2,706.7 190.8,705.8 196.4,698.8 202.0,687.3 207.5,676.7 213.1,670.8 218.7,667.6 224.3,668.0 229.9,669.9 235.5,675.2 241.0,678.5 246.6,682.7 252.2,684.6 257.8,687.6 263.4,689.1 268.9,689.8 274.5,693.6 280.1,696.2 285.7,701.8 291.3,703.8 296.9,705.7 302.4,705.2 308.0,703.9 313.6,701.1 319.2,693.5 324.8,684.1 330.3,675.9 335.9,677.0 341.5,683.8 347.1,695.5 352.7,701.7 358.2,703.1 363.8,694.5 369.4,684.0 375.0,673.9 380.6,670.4 386.2,668.7 391.7,666.3 397.3,663.9 402.9,663.2 408.5,667.7 414.1,670.9 419.6,674.0 425.2,671.5 430.8,674.1 436.4,678.6 442.0,690.2 447.5,698.2 453.1,705.3 458.7,706.3 464.3,703.4 469.9,698.8 475.5,694.8 481.0,694.7 486.6,691.3 492.2,685.2 497.8,675.5 503.4,667.9 508.9,664.5 514.5,666.2 520.1,670.7 525.7,674.9 531.3,676.6 536.9,675.0 542.4,673.1 548.0,670.6 553.6,672.6 559.2,678.1 564.8,687.0 570.3,693.2 575.9,692.2 581.5,686.5 587.1,681.8 592.7,684.3 598.2,692.1 603.8,698.9 609.4,699.2 615.0,693.5 620.6,684.7 626.2,678.3 631.7,674.7 637.3,673.4 642.9,671.8 648.5,668.0 654.1,666.8 659.6,667.5 665.2,674.9 670.8,682.5 676.4,688.2 682.0,688.6 687.5,688.7 693.1,694.2 698.7,702.9 704.3,709.2 709.9,710.4 715.5,706.5 721.0,703.1 726.6,700.3 732.2,702.2 737.8,705.2 743.4,706.6 748.9,705.5 754.5,697.9 760.1,688.9 765.7,678.3 771.3,676.4 776.9,677.3 782.4,683.4 788.0,687.2 793.6,696.0 799.2,700.5 804.8,702.5 810.3,696.1 815.9,686.6 821.5,676.2 827.1,667.9 832.7,665.9 838.2,667.4 843.8,671.5 849.4,673.1 855.0,677.7 860.6,685.5 866.2,697.4 871.7,704.6 877.3,708.4 882.9,708.6 888.5,708.1 894.1,703.8 899.6,697.0 905.2,688.3 910.8,682.3 916.4,680.9 922.0,688.2 927.5,694.7 933.1,695.1 938.7,686.0 944.3,677.5 949.9,672.6 955.5,671.9 961.0,671.6 966.6,676.7 972.2,683.6 977.8,689.8 983.4,685.9 988.9,678.7 994.5,674.0 1000.1,674.1 1005.7,673.5 1011.3,672.8 1016.9,674.2 1022.4,680.4 1028.0,684.6 1033.6,685.3 1039.2,679.3 1044.8,672.5 1050.3,667.0 1055.9,665.9 1061.5,665.9 1067.1,666.8 1072.7,669.0 1078.2,673.7 1083.8,679.9 1089.4,683.5 1095.0,683.4 1100.6,680.9 1106.2,679.2 1111.7,679.6 1117.3,679.3 1122.9,679.5 1128.5,680.8 1134.1,684.7 1139.6,691.0 1145.2,696.6 1150.8,701.7 1156.4,704.4 1162.0,704.5 1167.5,697.3 1173.1,684.8 1178.7,671.5 1184.3,665.1 1189.9,666.5 1195.5,669.9 1201.0,671.9 1206.6,668.3 1212.2,665.5 1217.8,663.8 1223.4,665.2 1228.9,667.1 1234.5,671.5 1240.1,679.6 1245.7,689.1 1251.3,693.6 1256.9,690.3 1262.4,680.1 1268.0,672.5 1273.6,669.3 1279.2,675.1 1284.8,681.9 1290.3,691.8 1295.9,698.1 1301.5,703.9 1307.1,704.4 1312.7,701.2 1318.2,694.0 1323.8,683.7 1329.4,673.2 1335.0,664.7 1340.6,661.6 1346.2,662.9 1351.7,666.9 1357.3,672.7 1362.9,675.9 1368.5,675.8 1374.1,671.9 1379.6,670.9 1385.2,674.1 1390.8,680.6 1396.4,687.4 1402.0,693.9 1407.6,697.1 1413.1,694.4 1418.7,687.4 1424.3,681.8 1429.9,682.7 1435.5,686.7 1441.0,688.4 1446.6,689.2 1452.2,686.9 1457.8,688.8 1463.4,687.5 1468.9,686.4 1474.5,680.0 1480.1,673.7 1485.7,670.1 1491.3,670.5 1496.9,672.3 1502.4,676.9 1508.0,681.0 1513.6,687.2 1519.2,685.4 1524.8,682.2 1530.3,671.9 1535.9,666.1 1541.5,661.9 1547.1,662.7 1552.7,664.2 1558.2,665.5 1563.8,668.3 1569.4,672.1 1575.0,676.1 1580.6,676.1 1586.2,673.8 1591.7,673.5 1597.3,679.8 1602.9,689.0 1608.5,696.0 1614.1,695.9 1619.6,690.2 1625.2,683.6 1630.8,680.5 1636.4,683.1 1642.0,684.1 1647.6,681.9 1653.1,674.5 1658.7,670.5 1664.3,670.2 1669.9,677.7 1675.5,683.1 1681.0,684.9 1686.6,678.5 1692.2,675.2 1697.8,676.2 1703.4,681.2 1708.9,684.7 1714.5,684.0 1720.1,679.7 1725.7,672.0 1731.3,667.5 1736.9,671.4 1742.4,682.5 1748.0,695.8 1753.6,703.4 1759.2,706.8 1764.8,705.2 1770.3,701.1 1775.9,692.8 1781.5,682.5 1787.1,672.8 1792.7,666.6" fill="none" stroke="#ff50ff" stroke-width="1.1" stroke-linejoin="round" stroke-linecap="round" opacity="1"/>
<polyline points="10.0,669.8 12.2,667.9 17.8,662.8 23.4,662.4 28.9,662.8 34.5,664.5 40.1,670.4 45.7,685.5 51.3,699.8 56.9,695.6 62.4,683.0 68.0,670.0 73.6,672.1 79.2,687.2 84.8,694.7 90.3,704.8 95.9,701.9 101.5,694.3 107.1,693.9 112.7,693.5 118.2,706.5 123.8,703.6 129.4,704.8 135.0,696.8 140.6,691.4 146.2,683.8 151.7,676.2 157.3,668.3 162.9,673.2 168.5,684.8 174.1,703.0 179.6,707.1 185.2,710.0 190.8,700.4 196.4,686.0 202.0,675.7 207.5,668.5 213.1,668.3 218.7,665.9 224.3,669.9 229.9,674.0 235.5,681.6 241.0,679.8 246.6,686.7 252.2,687.3 257.8,688.7 263.4,691.3 268.9,689.3 274.5,700.1 280.1,699.2 285.7,706.2 291.3,705.9 296.9,705.0 302.4,704.6 308.0,702.2 313.6,696.4 319.2,681.8 324.8,674.1 330.3,671.7 335.9,685.2 341.5,694.7 347.1,706.5 352.7,704.0 358.2,698.8 363.8,680.7 369.4,672.6 375.0,668.5 380.6,670.2 386.2,667.4 391.7,661.3 397.3,663.0 402.9,665.2 408.5,674.8 414.1,672.8 419.6,674.3 425.2,667.4 430.8,680.5 436.4,687.8 442.0,702.3 447.5,704.4 453.1,709.3 458.7,705.1 464.3,695.7 469.9,695.7 475.5,693.0 481.0,695.5 486.6,685.3 492.2,674.8 497.8,666.6 503.4,662.4 508.9,664.6 514.5,671.5 520.1,676.0 525.7,677.1 531.3,676.7 536.9,671.1 542.4,671.6 548.0,669.0 553.6,677.2 559.2,688.0 564.8,695.9 570.3,695.7 575.9,685.1 581.5,678.7 587.1,681.6 592.7,692.7 598.2,702.0 603.8,702.0 609.4,693.8 615.0,684.8 620.6,675.7 626.2,674.3 631.7,674.0 637.3,671.9 642.9,669.6 648.5,662.7 654.1,668.1 659.6,671.7 665.2,684.8 670.8,691.1 676.4,688.8 682.0,685.9 687.5,691.3 693.1,705.2 698.7,712.2 704.3,710.1 709.9,708.8 715.5,700.5 721.0,700.0 726.6,700.2 732.2,706.4 737.8,709.0 743.4,704.5 748.9,703.0 754.5,686.3 760.1,677.5 765.7,671.0 771.3,680.9 776.9,680.0 782.4,689.3 788.0,692.2 793.6,706.4 799.2,702.8 804.8,698.3 810.3,687.0 815.9,674.5 821.5,667.1 827.1,662.2 832.7,668.4 838.2,671.6 843.8,674.5 849.4,673.1 855.0,685.5 860.6,697.8 866.2,708.8 871.7,707.0 877.3,709.2 882.9,709.7 888.5,705.4 894.1,696.4 899.6,689.1 905.2,679.3 910.8,678.5 916.4,685.0 922.0,701.1 927.5,697.9 933.1,686.2 938.7,673.9 944.3,672.6 949.9,671.3 955.5,671.9 961.0,671.6 966.6,686.6 972.2,692.7 977.8,690.0 983.4,674.8 988.9,671.2 994.5,676.0 1000.1,675.2 1005.7,669.5 1011.3,673.8 1016.9,679.3 1022.4,688.2 1028.0,686.2 1033.6,681.4 1039.2,670.4 1044.8,665.7 1050.3,665.0 1055.9,666.9 1061.5,665.7 1067.1,667.9 1072.7,673.4 1078.2,679.6 1083.8,686.6 1089.4,684.2 1095.0,679.3 1100.6,679.2 1106.2,679.1 1111.7,680.4 1117.3,678.5 1122.9,679.6 1128.5,684.5 1134.1,690.1 1139.6,698.3 1145.2,701.4 1150.8,705.3 1156.4,706.4 1162.0,701.9 1167.5,683.6 1173.1,669.0 1178.7,661.9 1184.3,664.4 1189.9,673.1 1195.5,672.2 1201.0,670.6 1206.6,662.1 1212.2,664.0 1217.8,665.3 1223.4,666.3 1228.9,669.8 1234.5,678.5 1240.1,690.6 1245.7,698.3 1251.3,691.8 1256.9,680.8 1262.4,667.8 1268.0,668.8 1273.6,671.3 1279.2,685.2 1284.8,689.1 1290.3,701.1 1295.9,703.9 1301.5,706.8 1307.1,702.5 1312.7,694.2 1318.2,685.2 1323.8,671.8 1329.4,662.7 1335.0,659.7 1340.6,662.3 1346.2,666.7 1351.7,671.7 1357.3,679.7 1362.9,676.2 1368.5,671.5 1374.1,668.1 1379.6,673.2 1385.2,681.0 1390.8,687.7 1396.4,693.6 1402.0,700.5 1407.6,697.2 1413.1,685.5 1418.7,679.5 1424.3,680.3 1429.9,688.4 1435.5,691.5 1441.0,685.3 1446.6,690.8 1452.2,684.6 1457.8,690.8 1463.4,687.2 1468.9,681.2 1474.5,671.8 1480.1,668.3 1485.7,670.2 1491.3,673.0 1496.9,673.7 1502.4,684.2 1508.0,685.3 1513.6,692.0 1519.2,678.9 1524.8,675.6 1530.3,661.3 1535.9,661.3 1541.5,663.0 1547.1,663.8 1552.7,665.9 1558.2,666.8 1563.8,672.1 1569.4,677.5 1575.0,678.6 1580.6,672.3 1586.2,670.6 1591.7,677.6 1597.3,691.3 1602.9,698.2 1608.5,698.5 1614.1,690.9 1619.6,681.2 1625.2,678.6 1630.8,681.7 1636.4,688.9 1642.0,681.7 1647.6,675.2 1653.1,666.6 1658.7,669.7 1664.3,674.2 1669.9,689.2 1675.5,685.8 1681.0,679.8 1686.6,669.8 1692.2,676.0 1697.8,682.8 1703.4,684.8 1708.9,686.6 1714.5,680.5 1720.1,672.0 1725.7,663.4 1731.3,667.0 1736.9,683.8 1742.4,696.6 1748.0,707.1 1753.6,706.5 1759.2,706.8 1764.8,702.3 1770.3,694.1 1775.9,682.1 1781.5,672.0 1787.1,664.9 1792.7,663.3" fill="none" stroke="#7272ff" stroke-width="1.1" stroke-linejoin="round" stroke-linecap="round" opacity="1"/>
</g>
<line x1="10" y1="670.5" x2="1841.0" y2="670.5" stroke="#4a4aff" stroke-width="1.3" stroke-dasharray="4.9,5.857"/>
<line x1="10" y1="703.5" x2="1841.0" y2="703.5" stroke="#4a4aff" stroke-width="1.3" stroke-dasharray="4.9,5.857"/>
<line x1="10" y1="536.7" x2="1906" y2="536.7" stroke="#3c3c3c" stroke-width="1.6"/>
<line x1="10" y1="649.5" x2="1906" y2="649.5" stroke="#3c3c3c" stroke-width="1.6"/>
<line x1="10" y1="716.8" x2="1906" y2="716.8" stroke="#3c3c3c" stroke-width="1.6"/>
<line x1="1841.5" y1="10" x2="1841.5" y2="744" stroke="#333" stroke-width="1.5"/>
<text x="1849.0" y="80.8" font-family="Liberation Sans, sans-serif" font-size="12" fill="#474747" text-anchor="start" font-weight="normal"  textLength="42.0" lengthAdjust="spacingAndGlyphs" stroke="#474747" stroke-width="0.3">40.0000</text>
<text x="1849.0" y="288.8" font-family="Liberation Sans, sans-serif" font-size="12" fill="#474747" text-anchor="start" font-weight="normal"  textLength="42.0" lengthAdjust="spacingAndGlyphs" stroke="#474747" stroke-width="0.3">32.0000</text>
<text x="1849.0" y="340.8" font-family="Liberation Sans, sans-serif" font-size="12" fill="#474747" text-anchor="start" font-weight="normal"  textLength="42.0" lengthAdjust="spacingAndGlyphs" stroke="#474747" stroke-width="0.3">30.0000</text>
<text x="1849.0" y="392.8" font-family="Liberation Sans, sans-serif" font-size="12" fill="#474747" text-anchor="start" font-weight="normal"  textLength="42.0" lengthAdjust="spacingAndGlyphs" stroke="#474747" stroke-width="0.3">28.0000</text>
<text x="1849.0" y="444.8" font-family="Liberation Sans, sans-serif" font-size="12" fill="#474747" text-anchor="start" font-weight="normal"  textLength="42.0" lengthAdjust="spacingAndGlyphs" stroke="#474747" stroke-width="0.3">26.0000</text>
<text x="1849.0" y="496.8" font-family="Liberation Sans, sans-serif" font-size="12" fill="#474747" text-anchor="start" font-weight="normal"  textLength="42.0" lengthAdjust="spacingAndGlyphs" stroke="#474747" stroke-width="0.3">24.0000</text>
<text x="1849.0" y="568.9" font-family="Liberation Sans, sans-serif" font-size="12" fill="#474747" text-anchor="start" font-weight="normal"  textLength="42.0" lengthAdjust="spacingAndGlyphs" stroke="#474747" stroke-width="0.3">80.0000</text>
<text x="1849.0" y="663.2" font-family="Liberation Sans, sans-serif" font-size="12" fill="#474747" text-anchor="start" font-weight="normal"  textLength="42.0" lengthAdjust="spacingAndGlyphs" stroke="#474747" stroke-width="0.3">100.000</text>
<path d="M1841.0,113.2 H1893.5 Q1895.5,113.2 1895.5,115.2 V127.69999999999999 Q1895.5,129.7 1893.5,129.7 H1841.0 Z" fill="#3a3aff"/>
<text x="1849.0" y="125.8" font-family="Liberation Sans, sans-serif" font-size="12" fill="#fff" text-anchor="start" font-weight="normal" stroke="#fff" stroke-width="0.25" textLength="41.0" lengthAdjust="spacingAndGlyphs">38.3085</text>
<path d="M1841.0,130 H1893.5 Q1895.5,130 1895.5,132 V144.2 Q1895.5,146.2 1893.5,146.2 H1841.0 Z" fill="#ff00ff"/>
<text x="1849.0" y="142.5" font-family="Liberation Sans, sans-serif" font-size="12" fill="#fff" text-anchor="start" font-weight="normal" stroke="#fff" stroke-width="0.25" textLength="41.0" lengthAdjust="spacingAndGlyphs">38.0759</text>
<path d="M1841.0,146.2 H1893.5 Q1895.5,146.2 1895.5,148.2 V161 Q1895.5,163 1893.5,163 H1841.0 Z" fill="#8a0c38"/>
<text x="1849.0" y="159.0" font-family="Liberation Sans, sans-serif" font-size="12" fill="#fff" text-anchor="start" font-weight="normal" stroke="#fff" stroke-width="0.25" textLength="41.0" lengthAdjust="spacingAndGlyphs">37.8784</text>
<path d="M1841.0,163 H1893.5 Q1895.5,163 1895.5,165 V177.4 Q1895.5,179.4 1893.5,179.4 H1841.0 Z" fill="#00c800"/>
<text x="1849.0" y="175.6" font-family="Liberation Sans, sans-serif" font-size="12" fill="#fff" text-anchor="start" font-weight="normal" stroke="#fff" stroke-width="0.25" textLength="41.0" lengthAdjust="spacingAndGlyphs">37.6418</text>
<path d="M1841.0,179.6 H1893.5 Q1895.5,179.6 1895.5,181.6 V193.9 Q1895.5,195.9 1893.5,195.9 H1841.0 Z" fill="#00c6c6"/>
<text x="1849.0" y="192.2" font-family="Liberation Sans, sans-serif" font-size="12" fill="#111" text-anchor="start" font-weight="normal" stroke="#111" stroke-width="0.25" textLength="41.0" lengthAdjust="spacingAndGlyphs">37.0316</text>
<path d="M1841.0,202 H1893.5 Q1895.5,202 1895.5,204 V216.6 Q1895.5,218.6 1893.5,218.6 H1841.0 Z" fill="#007800"/>
<text x="1849.0" y="214.7" font-family="Liberation Sans, sans-serif" font-size="12" fill="#fff" text-anchor="start" font-weight="normal" stroke="#fff" stroke-width="0.25" textLength="41.0" lengthAdjust="spacingAndGlyphs">34.8713</text>
<path d="M1841.0,227.7 H1893.5 Q1895.5,227.7 1895.5,229.7 V242.2 Q1895.5,244.2 1893.5,244.2 H1841.0 Z" fill="#ff3c3c"/>
<text x="1849.0" y="240.3" font-family="Liberation Sans, sans-serif" font-size="12" fill="#fff" text-anchor="start" font-weight="normal" stroke="#fff" stroke-width="0.25" textLength="41.0" lengthAdjust="spacingAndGlyphs">33.8772</text>
<path d="M1841.0,248.4 H1893.5 Q1895.5,248.4 1895.5,250.4 V263.2 Q1895.5,265.2 1893.5,265.2 H1841.0 Z" fill="#a65a3c"/>
<text x="1849.0" y="261.2" font-family="Liberation Sans, sans-serif" font-size="12" fill="#fff" text-anchor="start" font-weight="normal" stroke="#fff" stroke-width="0.25" textLength="41.0" lengthAdjust="spacingAndGlyphs">33.0813</text>
<path d="M1841.0,265.2 H1893.5 Q1895.5,265.2 1895.5,267.2 V279.6 Q1895.5,281.6 1893.5,281.6 H1841.0 Z" fill="#000"/>
<text x="1849.0" y="277.8" font-family="Liberation Sans, sans-serif" font-size="12" fill="#fff" text-anchor="start" font-weight="normal" stroke="#fff" stroke-width="0.25" textLength="41.0" lengthAdjust="spacingAndGlyphs">32.6523</text>
<path d="M1841.0,579.3 H1893.5 Q1895.5,579.3 1895.5,581.3 V593.5 Q1895.5,595.5 1893.5,595.5 H1841.0 Z" fill="#3a3aff"/>
<text x="1849.0" y="591.8" font-family="Liberation Sans, sans-serif" font-size="12" fill="#fff" text-anchor="start" font-weight="normal" stroke="#fff" stroke-width="0.25" textLength="41.0" lengthAdjust="spacingAndGlyphs">59.2633</text>
<path d="M1841.0,595.8 H1893.5 Q1895.5,595.8 1895.5,597.8 V610.3 Q1895.5,612.3 1893.5,612.3 H1841.0 Z" fill="#ff00ff"/>
<text x="1849.0" y="608.4" font-family="Liberation Sans, sans-serif" font-size="12" fill="#fff" text-anchor="start" font-weight="normal" stroke="#fff" stroke-width="0.25" textLength="41.0" lengthAdjust="spacingAndGlyphs">58.1691</text>
<path d="M1841.0,612.5 H1893.5 Q1895.5,612.5 1895.5,614.5 V626.8 Q1895.5,628.8 1893.5,628.8 H1841.0 Z" fill="#16704e"/>
<text x="1849.0" y="625.0" font-family="Liberation Sans, sans-serif" font-size="12" fill="#fff" text-anchor="start" font-weight="normal" stroke="#fff" stroke-width="0.25" textLength="41.0" lengthAdjust="spacingAndGlyphs">54.5176</text>
<path d="M1841.0,656 H1887 Q1889,656 1889,658 V670.7 Q1889,672.7 1887,672.7 H1841.0 Z" fill="#3a3aff"/>
<text x="1849.0" y="668.8" font-family="Liberation Sans, sans-serif" font-size="12" fill="#fff" text-anchor="start" font-weight="normal" stroke="#fff" stroke-width="0.25" textLength="35.5" lengthAdjust="spacingAndGlyphs">91.834</text>
<path d="M1841.0,673 H1887 Q1889,673 1889,675 V687.6 Q1889,689.6 1887,689.6 H1841.0 Z" fill="#ff00ff"/>
<text x="1849.0" y="685.7" font-family="Liberation Sans, sans-serif" font-size="12" fill="#fff" text-anchor="start" font-weight="normal" stroke="#fff" stroke-width="0.25" textLength="35.5" lengthAdjust="spacingAndGlyphs">85.951</text>
<rect x="1845" y="14.2" width="57" height="49.5" rx="4" fill="#fff" stroke="#efefef" stroke-width="1.5"/>
<text x="1853.8" y="30.8" font-family="Liberation Sans, sans-serif" font-size="12" fill="#444" text-anchor="start" font-weight="normal"  textLength="20.5" lengthAdjust="spacingAndGlyphs" stroke="#444" stroke-width="0.3">USD</text>
<text x="1853.8" y="55.1" font-family="Liberation Sans, sans-serif" font-size="12" fill="#444" text-anchor="start" font-weight="normal"  textLength="19.7" lengthAdjust="spacingAndGlyphs" stroke="#444" stroke-width="0.3">oz t</text>
<text x="18.1" y="29.7" font-family="Liberation Sans, sans-serif" font-size="12" fill="#474747" text-anchor="start" font-weight="normal"  textLength="156.5" lengthAdjust="spacingAndGlyphs" stroke="#474747" stroke-width="0.3">PREC.M.XAG=, 1D, FXS, Bid</text>
<text x="183.0" y="29.7" font-family="Liberation Sans, sans-serif" font-size="12" fill="#474747" text-anchor="start" font-weight="normal"  stroke="#474747" stroke-width="0.3">O</text>
<text x="192.4" y="29.7" font-family="Liberation Sans, sans-serif" font-size="12" fill="#5050ff" text-anchor="start" font-weight="normal"  textLength="44.2" lengthAdjust="spacingAndGlyphs" stroke="#5050ff" stroke-width="0.3">38.2743</text>
<text x="244.9" y="29.7" font-family="Liberation Sans, sans-serif" font-size="12" fill="#474747" text-anchor="start" font-weight="normal"  stroke="#474747" stroke-width="0.3">H</text>
<text x="254.2" y="29.7" font-family="Liberation Sans, sans-serif" font-size="12" fill="#5050ff" text-anchor="start" font-weight="normal"  textLength="44.2" lengthAdjust="spacingAndGlyphs" stroke="#5050ff" stroke-width="0.3">38.4700</text>
<text x="306.3" y="29.7" font-family="Liberation Sans, sans-serif" font-size="12" fill="#474747" text-anchor="start" font-weight="normal"  stroke="#474747" stroke-width="0.3">L</text>
<text x="313.0" y="29.7" font-family="Liberation Sans, sans-serif" font-size="12" fill="#5050ff" text-anchor="start" font-weight="normal"  textLength="44.2" lengthAdjust="spacingAndGlyphs" stroke="#5050ff" stroke-width="0.3">37.9395</text>
<text x="365.2" y="29.7" font-family="Liberation Sans, sans-serif" font-size="12" fill="#474747" text-anchor="start" font-weight="normal"  stroke="#474747" stroke-width="0.3">C</text>
<text x="373.5" y="29.7" font-family="Liberation Sans, sans-serif" font-size="12" fill="#5050ff" text-anchor="start" font-weight="normal"  textLength="44.2" lengthAdjust="spacingAndGlyphs" stroke="#5050ff" stroke-width="0.3">38.3085</text>
<text x="426.7" y="29.7" font-family="Liberation Sans, sans-serif" font-size="12" fill="#5050ff" text-anchor="start" font-weight="normal"  textLength="95.1" lengthAdjust="spacingAndGlyphs" stroke="#5050ff" stroke-width="0.3">-0.0015 (−0.00%)</text>
<text x="539.5" y="29.7" font-family="Liberation Sans, sans-serif" font-size="12" fill="#474747" text-anchor="start" font-weight="normal"  textLength="90.1" lengthAdjust="spacingAndGlyphs" stroke="#474747" stroke-width="0.3">MA (4, close, 0)</text>
<text x="637.6" y="29.7" font-family="Liberation Sans, sans-serif" font-size="12" fill="#ff1cff" text-anchor="start" font-weight="normal"  textLength="45.3" lengthAdjust="spacingAndGlyphs" stroke="#ff1cff" stroke-width="0.3">38.0759</text>
<text x="700.9" y="29.7" font-family="Liberation Sans, sans-serif" font-size="12" fill="#474747" text-anchor="start" font-weight="normal"  textLength="89.7" lengthAdjust="spacingAndGlyphs" stroke="#474747" stroke-width="0.3">MA (9, close, 0)</text>
<text x="799.0" y="29.7" font-family="Liberation Sans, sans-serif" font-size="12" fill="#1ec81e" text-anchor="start" font-weight="normal"  textLength="44.7" lengthAdjust="spacingAndGlyphs" stroke="#1ec81e" stroke-width="0.3">37.6418</text>
<text x="861.6" y="29.7" font-family="Liberation Sans, sans-serif" font-size="12" fill="#474747" text-anchor="start" font-weight="normal"  textLength="97.1" lengthAdjust="spacingAndGlyphs" stroke="#474747" stroke-width="0.3">MA (25, close, 0)</text>
<text x="966.6" y="29.7" font-family="Liberation Sans, sans-serif" font-size="12" fill="#b8285a" text-anchor="start" font-weight="normal"  textLength="45.3" lengthAdjust="spacingAndGlyphs" stroke="#b8285a" stroke-width="0.3">37.8784</text>
<text x="1029.4" y="29.7" font-family="Liberation Sans, sans-serif" font-size="12" fill="#474747" text-anchor="start" font-weight="normal"  textLength="97.1" lengthAdjust="spacingAndGlyphs" stroke="#474747" stroke-width="0.3">MA (50, close, 0)</text>
<text x="1134.4" y="29.7" font-family="Liberation Sans, sans-serif" font-size="12" fill="#1ec8d2" text-anchor="start" font-weight="normal"  textLength="45.1" lengthAdjust="spacingAndGlyphs" stroke="#1ec8d2" stroke-width="0.3">37.0316</text>
<text x="1197.0" y="29.7" font-family="Liberation Sans, sans-serif" font-size="12" fill="#474747" text-anchor="start" font-weight="normal"  textLength="104.2" lengthAdjust="spacingAndGlyphs" stroke="#474747" stroke-width="0.3">MA (100, close, 0)</text>
<text x="1309.1" y="29.7" font-family="Liberation Sans, sans-serif" font-size="12" fill="#1e961e" text-anchor="start" font-weight="normal"  textLength="44.9" lengthAdjust="spacingAndGlyphs" stroke="#1e961e" stroke-width="0.3">34.8713</text>
<text x="1372.1" y="29.7" font-family="Liberation Sans, sans-serif" font-size="12" fill="#474747" text-anchor="start" font-weight="normal"  textLength="103.1" lengthAdjust="spacingAndGlyphs" stroke="#474747" stroke-width="0.3">MA (150, close, 0)</text>
<text x="1483.2" y="29.7" font-family="Liberation Sans, sans-serif" font-size="12" fill="#ff4646" text-anchor="start" font-weight="normal"  textLength="45.3" lengthAdjust="spacingAndGlyphs" stroke="#ff4646" stroke-width="0.3">33.8772</text>
<text x="1546.4" y="29.7" font-family="Liberation Sans, sans-serif" font-size="12" fill="#474747" text-anchor="start" font-weight="normal"  textLength="103.8" lengthAdjust="spacingAndGlyphs" stroke="#474747" stroke-width="0.3">MA (200, close, 0)</text>
<text x="1657.5" y="29.7" font-family="Liberation Sans, sans-serif" font-size="12" fill="#b46e5a" text-anchor="start" font-weight="normal"  textLength="45.3" lengthAdjust="spacingAndGlyphs" stroke="#b46e5a" stroke-width="0.3">33.0813</text>
<text x="18.1" y="47.7" font-family="Liberation Sans, sans-serif" font-size="12" fill="#474747" text-anchor="start" font-weight="normal"  textLength="102.7" lengthAdjust="spacingAndGlyphs" stroke="#474747" stroke-width="0.3">MA (250, close, 0)</text>
<text x="129.8" y="47.7" font-family="Liberation Sans, sans-serif" font-size="12" fill="#333" text-anchor="start" font-weight="normal"  textLength="44.2" lengthAdjust="spacingAndGlyphs" stroke="#333" stroke-width="0.3">32.6523</text>
<text x="17.8" y="557.0" font-family="Liberation Sans, sans-serif" font-size="12" fill="#474747" text-anchor="start" font-weight="normal"  textLength="150.5" lengthAdjust="spacingAndGlyphs" stroke="#474747" stroke-width="0.3">RSI (9, Wilder, Simple, 14)</text>
<text x="176.5" y="557.0" font-family="Liberation Sans, sans-serif" font-size="12" fill="#4646ff" text-anchor="start" font-weight="normal"  textLength="45.3" lengthAdjust="spacingAndGlyphs" stroke="#4646ff" stroke-width="0.3">59.2633</text>
<text x="228.7" y="557.0" font-family="Liberation Sans, sans-serif" font-size="12" fill="#2e8a64" text-anchor="start" font-weight="normal"  textLength="45.8" lengthAdjust="spacingAndGlyphs" stroke="#2e8a64" stroke-width="0.3">54.5176</text>
<text x="293.1" y="557.0" font-family="Liberation Sans, sans-serif" font-size="12" fill="#474747" text-anchor="start" font-weight="normal"  textLength="150.0" lengthAdjust="spacingAndGlyphs" stroke="#474747" stroke-width="0.3">RSI (14, Wilder, Simple, 9)</text>
<text x="451.0" y="557.0" font-family="Liberation Sans, sans-serif" font-size="12" fill="#ff1cff" text-anchor="start" font-weight="normal"  textLength="44.8" lengthAdjust="spacingAndGlyphs" stroke="#ff1cff" stroke-width="0.3">58.1691</text>
<text x="18.4" y="670.5" font-family="Liberation Sans, sans-serif" font-size="12" fill="#474747" text-anchor="start" font-weight="normal"  textLength="186.1" lengthAdjust="spacingAndGlyphs" stroke="#474747" stroke-width="0.3">Stochastic Slow (5, 3, 3, Simple)</text>
<text x="212.9" y="670.5" font-family="Liberation Sans, sans-serif" font-size="12" fill="#4646ff" text-anchor="start" font-weight="normal"  textLength="38.0" lengthAdjust="spacingAndGlyphs" stroke="#4646ff" stroke-width="0.3">91.834</text>
<text x="258.5" y="670.5" font-family="Liberation Sans, sans-serif" font-size="12" fill="#ff1cff" text-anchor="start" font-weight="normal"  textLength="38.3" lengthAdjust="spacingAndGlyphs" stroke="#ff1cff" stroke-width="0.3">85.951</text>
<text x="75.4" y="735.0" font-family="Liberation Sans, sans-serif" font-size="12" fill="#474747" text-anchor="start" font-weight="normal"  textLength="19.1" lengthAdjust="spacingAndGlyphs" stroke="#474747" stroke-width="0.3">Jun</text>
<text x="188.7" y="735.0" font-family="Liberation Sans, sans-serif" font-size="12" fill="#474747" text-anchor="start" font-weight="normal"  textLength="16.1" lengthAdjust="spacingAndGlyphs" stroke="#474747" stroke-width="0.3">Jul</text>
<text x="315.3" y="735.0" font-family="Liberation Sans, sans-serif" font-size="12" fill="#474747" text-anchor="start" font-weight="normal"  textLength="19.8" lengthAdjust="spacingAndGlyphs" stroke="#474747" stroke-width="0.3">Aug</text>
<text x="438.1" y="735.0" font-family="Liberation Sans, sans-serif" font-size="12" fill="#474747" text-anchor="start" font-weight="normal"  textLength="19.8" lengthAdjust="spacingAndGlyphs" stroke="#474747" stroke-width="0.3">Sep</text>
<text x="555.2" y="735.0" font-family="Liberation Sans, sans-serif" font-size="12" fill="#474747" text-anchor="start" font-weight="normal"  textLength="19.3" lengthAdjust="spacingAndGlyphs" stroke="#474747" stroke-width="0.3">Oct</text>
<text x="683.0" y="735.0" font-family="Liberation Sans, sans-serif" font-size="12" fill="#474747" text-anchor="start" font-weight="normal"  textLength="20.5" lengthAdjust="spacingAndGlyphs" stroke="#474747" stroke-width="0.3">Nov</text>
<text x="800.8" y="735.0" font-family="Liberation Sans, sans-serif" font-size="12" fill="#474747" text-anchor="start" font-weight="normal"  textLength="19.8" lengthAdjust="spacingAndGlyphs" stroke="#474747" stroke-width="0.3">Dec</text>
<text x="914.3" y="735.0" font-family="Liberation Sans, sans-serif" font-size="12" fill="#474747" text-anchor="start" font-weight="bold"  textLength="27.4" lengthAdjust="spacingAndGlyphs" stroke="#474747" stroke-width="0.3">2025</text>
<text x="1040.2" y="735.0" font-family="Liberation Sans, sans-serif" font-size="12" fill="#474747" text-anchor="start" font-weight="normal"  textLength="20.6" lengthAdjust="spacingAndGlyphs" stroke="#474747" stroke-width="0.3">Feb</text>
<text x="1152.0" y="735.0" font-family="Liberation Sans, sans-serif" font-size="12" fill="#474747" text-anchor="start" font-weight="normal"  textLength="20.3" lengthAdjust="spacingAndGlyphs" stroke="#474747" stroke-width="0.3">Mar</text>
<text x="1269.8" y="735.0" font-family="Liberation Sans, sans-serif" font-size="12" fill="#474747" text-anchor="start" font-weight="normal"  textLength="19.5" lengthAdjust="spacingAndGlyphs" stroke="#474747" stroke-width="0.3">Apr</text>
<text x="1385.5" y="735.0" font-family="Liberation Sans, sans-serif" font-size="12" fill="#474747" text-anchor="start" font-weight="normal"  textLength="21.9" lengthAdjust="spacingAndGlyphs" stroke="#474747" stroke-width="0.3">May</text>
<text x="1509.9" y="735.0" font-family="Liberation Sans, sans-serif" font-size="12" fill="#474747" text-anchor="start" font-weight="normal"  textLength="19.3" lengthAdjust="spacingAndGlyphs" stroke="#474747" stroke-width="0.3">Jun</text>
<text x="1628.5" y="735.0" font-family="Liberation Sans, sans-serif" font-size="12" fill="#474747" text-anchor="start" font-weight="normal"  textLength="16.0" lengthAdjust="spacingAndGlyphs" stroke="#474747" stroke-width="0.3">Jul</text>
<text x="1754.5" y="735.0" font-family="Liberation Sans, sans-serif" font-size="12" fill="#474747" text-anchor="start" font-weight="normal"  textLength="20.3" lengthAdjust="spacingAndGlyphs" stroke="#474747" stroke-width="0.3">Aug</text>
<text x="1867" y="769" font-family="Liberation Sans, sans-serif" font-size="14.6" font-weight="bold" fill="#1414ff" textLength="38.4" lengthAdjust="spacingAndGlyphs">LSEG</text>
<g fill="#1a1aff">
<path d="M1832.2,758.5 L1833.2,755.2 L1838.3,755.2 L1842.5,756.5 L1850.6,756.8 L1855.4,755.2 L1859.6,756.1 L1860.6,758.4 L1859.9,760.6 L1860.3,763.5 L1857.7,768.1 L1856.4,770.6 L1853.2,772.6 L1847.4,773.2 L1842.5,771.9 L1835.4,771.3 L1834.5,766.5 L1832.2,764.2 Z" opacity="0.3"/>
<path d="M1832,757.5 L1834,755 L1836,756 L1838.5,755 L1841,757 L1842.5,760 L1841,763 L1838,764.5 L1835,763.5 L1832.5,761 Z"/>
<path d="M1853.5,756.5 L1855.5,755 L1858,756 L1860.5,757 L1861,760 L1859.5,763 L1857,765 L1854,763.5 L1852.5,760 Z"/>
<rect x="1841" y="757" width="13" height="5"/>
<path d="M1843,760 H1852 V765 Q1852,769.5 1847.5,769.5 Q1843,769.5 1843,765 Z"/>
<path d="M1834,765 l2,1 l-1,3 l-1.5,0.5 z M1836,770 l2,1 l-1,1.5 z M1840,771 l2,0.5 l-0.5,1.5 z M1845,771.5 l3,0.5 l-1,1.2 z M1850,771 l2,-0.5 l0,1.5 z M1855,768 l2,-1 l-0.5,2.5 z M1858,764 l2,0 l-1,3 z M1838,765 l2,2 l-1.5,1 z"/>
</g>
<g fill="#fff" opacity="0.85">
<rect x="1840.5" y="759" width="2" height="1.2"/><rect x="1835" y="762" width="1.5" height="1"/><rect x="1845.5" y="761" width="1" height="3"/><rect x="1847" y="764" width="2" height="1"/><rect x="1851.5" y="758.5" width="1" height="3"/><rect x="1856" y="758" width="1" height="2.5"/><rect x="1837" y="757.5" width="1.2" height="1"/>
</g>
</svg></body></html>
